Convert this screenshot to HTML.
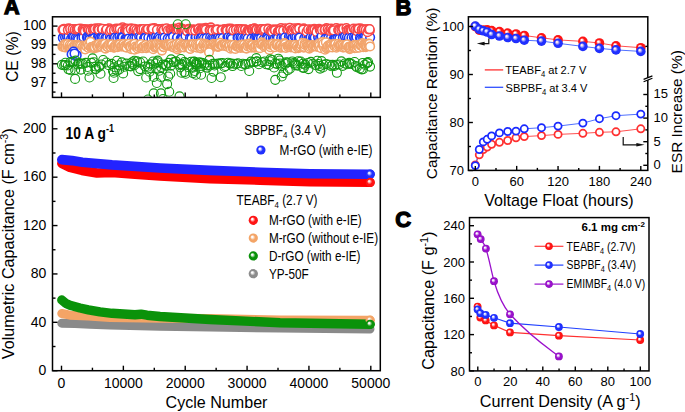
<!DOCTYPE html>
<html><head><meta charset="utf-8"><style>html,body{margin:0;padding:0;background:#fff;overflow:hidden}svg{display:block}</style></head>
<body>
<svg width="685" height="412" viewBox="0 0 685 412" font-family='"Liberation Sans", sans-serif'>
<defs>
<radialGradient id="gR" cx="0.5" cy="0.5" r="0.5" fx="0.36" fy="0.345"><stop offset="0" stop-color="#fff"/><stop offset="0.14" stop-color="#fff" stop-opacity="0.9"/><stop offset="0.55" stop-color="#ff1414"/><stop offset="0.88" stop-color="#ff1414"/><stop offset="1" stop-color="#f20a0a"/></radialGradient>
<radialGradient id="gB" cx="0.5" cy="0.5" r="0.5" fx="0.36" fy="0.345"><stop offset="0" stop-color="#fff"/><stop offset="0.14" stop-color="#fff" stop-opacity="0.9"/><stop offset="0.55" stop-color="#2030ff"/><stop offset="0.88" stop-color="#2030ff"/><stop offset="1" stop-color="#1c28f0"/></radialGradient>
<radialGradient id="gO" cx="0.5" cy="0.5" r="0.5" fx="0.36" fy="0.345"><stop offset="0" stop-color="#fff"/><stop offset="0.14" stop-color="#fff" stop-opacity="0.9"/><stop offset="0.55" stop-color="#f4a466"/><stop offset="0.88" stop-color="#f4a466"/><stop offset="1" stop-color="#eea060"/></radialGradient>
<radialGradient id="gG" cx="0.5" cy="0.5" r="0.5" fx="0.36" fy="0.345"><stop offset="0" stop-color="#fff"/><stop offset="0.14" stop-color="#fff" stop-opacity="0.9"/><stop offset="0.55" stop-color="#0a920a"/><stop offset="0.88" stop-color="#0a920a"/><stop offset="1" stop-color="#088a08"/></radialGradient>
<radialGradient id="gK" cx="0.5" cy="0.5" r="0.5" fx="0.36" fy="0.345"><stop offset="0" stop-color="#fff"/><stop offset="0.14" stop-color="#fff" stop-opacity="0.9"/><stop offset="0.55" stop-color="#8c8c8c"/><stop offset="0.88" stop-color="#8c8c8c"/><stop offset="1" stop-color="#787878"/></radialGradient>
<radialGradient id="gP" cx="0.5" cy="0.5" r="0.5" fx="0.36" fy="0.345"><stop offset="0" stop-color="#fff"/><stop offset="0.14" stop-color="#fff" stop-opacity="0.9"/><stop offset="0.55" stop-color="#9a10cc"/><stop offset="0.88" stop-color="#9a10cc"/><stop offset="1" stop-color="#8008b0"/></radialGradient>
<clipPath id="clipCE"><rect x="53" y="17.5" width="326.5" height="79.2"/></clipPath>
<clipPath id="clipA"><rect x="53" y="117.3" width="326.5" height="252.5"/></clipPath>
</defs>
<rect width="685" height="412" fill="#fff"/>
<text transform="translate(4.0,14.3) scale(0.98,1)" font-size="22" font-weight="bold" stroke="#000" stroke-width="1.3">A</text>
<text x="395.4" y="14.9" font-size="22" font-weight="bold" stroke="#000" stroke-width="1.3">B</text>
<text x="395.2" y="227" font-size="22" font-weight="bold" stroke="#000" stroke-width="1.3">C</text>
<g clip-path="url(#clipCE)" fill="#fff" stroke-width="1.55">
<circle cx="64.06" cy="38.6" r="4.3" stroke="#1f3af5"/>
<circle cx="62.97" cy="37.3" r="4.3" stroke="#1f3af5"/>
<circle cx="64.17" cy="32.18" r="4.3" stroke="#f84848"/>
<circle cx="62.86" cy="37.91" r="4.3" stroke="#1f3af5"/>
<circle cx="62.45" cy="29.55" r="4.3" stroke="#f84848"/>
<circle cx="66.12" cy="29.32" r="4.3" stroke="#f84848"/>
<circle cx="65.03" cy="37.25" r="4.3" stroke="#1f3af5"/>
<circle cx="66.42" cy="31.33" r="4.3" stroke="#f84848"/>
<circle cx="67.19" cy="37.29" r="4.3" stroke="#1f3af5"/>
<circle cx="65" cy="29.74" r="4.3" stroke="#f84848"/>
<circle cx="64.1" cy="28.89" r="4.3" stroke="#f84848"/>
<circle cx="67.01" cy="36.21" r="4.3" stroke="#1f3af5"/>
<circle cx="63.51" cy="29.63" r="4.3" stroke="#f84848"/>
<circle cx="68.88" cy="29.56" r="4.3" stroke="#f84848"/>
<circle cx="69.41" cy="30.79" r="4.3" stroke="#f84848"/>
<circle cx="68.54" cy="28.4" r="4.3" stroke="#f84848"/>
<circle cx="71.79" cy="30.2" r="4.3" stroke="#f84848"/>
<circle cx="70.1" cy="37.77" r="4.3" stroke="#1f3af5"/>
<circle cx="71.02" cy="38.25" r="4.3" stroke="#1f3af5"/>
<circle cx="68.6" cy="36.39" r="4.3" stroke="#1f3af5"/>
<circle cx="67.83" cy="30.05" r="4.3" stroke="#f84848"/>
<circle cx="70.82" cy="30.87" r="4.3" stroke="#f84848"/>
<circle cx="70.12" cy="28.77" r="4.3" stroke="#f84848"/>
<circle cx="71.08" cy="38.54" r="4.3" stroke="#1f3af5"/>
<circle cx="72.62" cy="36.86" r="4.3" stroke="#1f3af5"/>
<circle cx="73.39" cy="29.45" r="4.3" stroke="#f84848"/>
<circle cx="72.59" cy="28.96" r="4.3" stroke="#f84848"/>
<circle cx="74.9" cy="39.05" r="4.3" stroke="#1f3af5"/>
<circle cx="75.14" cy="29.86" r="4.3" stroke="#f84848"/>
<circle cx="73.75" cy="37.27" r="4.3" stroke="#1f3af5"/>
<circle cx="75.67" cy="29.42" r="4.3" stroke="#f84848"/>
<circle cx="76.51" cy="37.8" r="4.3" stroke="#1f3af5"/>
<circle cx="78.65" cy="29.86" r="4.3" stroke="#f84848"/>
<circle cx="75.49" cy="38.02" r="4.3" stroke="#1f3af5"/>
<circle cx="74.65" cy="29.49" r="4.3" stroke="#f84848"/>
<circle cx="76.85" cy="29.16" r="4.3" stroke="#f84848"/>
<circle cx="77.15" cy="38.54" r="4.3" stroke="#1f3af5"/>
<circle cx="76.66" cy="29.63" r="4.3" stroke="#f84848"/>
<circle cx="79.87" cy="38.71" r="4.3" stroke="#1f3af5"/>
<circle cx="81.37" cy="29.9" r="4.3" stroke="#f84848"/>
<circle cx="80.69" cy="28.52" r="4.3" stroke="#f84848"/>
<circle cx="79.38" cy="30.69" r="4.3" stroke="#f84848"/>
<circle cx="82.7" cy="38.23" r="4.3" stroke="#1f3af5"/>
<circle cx="77.32" cy="28.98" r="4.3" stroke="#f84848"/>
<circle cx="78.6" cy="28.74" r="4.3" stroke="#f84848"/>
<circle cx="80.33" cy="37.9" r="4.3" stroke="#1f3af5"/>
<circle cx="78.22" cy="39.52" r="4.3" stroke="#1f3af5"/>
<circle cx="82.64" cy="29.32" r="4.3" stroke="#f84848"/>
<circle cx="83.03" cy="29.02" r="4.3" stroke="#f84848"/>
<circle cx="81.51" cy="38.05" r="4.3" stroke="#1f3af5"/>
<circle cx="84.39" cy="37.06" r="4.3" stroke="#1f3af5"/>
<circle cx="86.5" cy="37.84" r="4.3" stroke="#1f3af5"/>
<circle cx="86.18" cy="30.25" r="4.3" stroke="#f84848"/>
<circle cx="84.34" cy="29.43" r="4.3" stroke="#f84848"/>
<circle cx="83.41" cy="37.37" r="4.3" stroke="#1f3af5"/>
<circle cx="83.63" cy="30.67" r="4.3" stroke="#f84848"/>
<circle cx="85.23" cy="29.2" r="4.3" stroke="#f84848"/>
<circle cx="87.52" cy="29.7" r="4.3" stroke="#f84848"/>
<circle cx="84.78" cy="31.25" r="4.3" stroke="#f84848"/>
<circle cx="87.66" cy="29.22" r="4.3" stroke="#f84848"/>
<circle cx="88.6" cy="30.43" r="4.3" stroke="#f84848"/>
<circle cx="90.54" cy="29.86" r="4.3" stroke="#f84848"/>
<circle cx="90.83" cy="37.2" r="4.3" stroke="#1f3af5"/>
<circle cx="88.89" cy="29.76" r="4.3" stroke="#f84848"/>
<circle cx="86.94" cy="37.14" r="4.3" stroke="#1f3af5"/>
<circle cx="87.69" cy="37.76" r="4.3" stroke="#1f3af5"/>
<circle cx="91.41" cy="28.92" r="4.3" stroke="#f84848"/>
<circle cx="89.32" cy="37.87" r="4.3" stroke="#1f3af5"/>
<circle cx="89.52" cy="39.44" r="4.3" stroke="#1f3af5"/>
<circle cx="90.62" cy="30.44" r="4.3" stroke="#f84848"/>
<circle cx="92.89" cy="29.81" r="4.3" stroke="#f84848"/>
<circle cx="92.72" cy="37.71" r="4.3" stroke="#1f3af5"/>
<circle cx="95.66" cy="29.86" r="4.3" stroke="#f84848"/>
<circle cx="95.61" cy="28.35" r="4.3" stroke="#f84848"/>
<circle cx="93.18" cy="29.95" r="4.3" stroke="#f84848"/>
<circle cx="93.67" cy="37.68" r="4.3" stroke="#1f3af5"/>
<circle cx="94.31" cy="30.76" r="4.3" stroke="#f84848"/>
<circle cx="94.76" cy="38.53" r="4.3" stroke="#1f3af5"/>
<circle cx="96.89" cy="30.49" r="4.3" stroke="#f84848"/>
<circle cx="96.75" cy="37.23" r="4.3" stroke="#1f3af5"/>
<circle cx="94.8" cy="29.08" r="4.3" stroke="#f84848"/>
<circle cx="97.58" cy="28.93" r="4.3" stroke="#f84848"/>
<circle cx="96.06" cy="37.46" r="4.3" stroke="#1f3af5"/>
<circle cx="94.39" cy="38.11" r="4.3" stroke="#1f3af5"/>
<circle cx="99.98" cy="28.53" r="4.3" stroke="#f84848"/>
<circle cx="98" cy="36.65" r="4.3" stroke="#1f3af5"/>
<circle cx="98.8" cy="37.15" r="4.3" stroke="#1f3af5"/>
<circle cx="101.11" cy="28.92" r="4.3" stroke="#f84848"/>
<circle cx="98.75" cy="28.27" r="4.3" stroke="#f84848"/>
<circle cx="99.89" cy="30.9" r="4.3" stroke="#f84848"/>
<circle cx="98.88" cy="29.85" r="4.3" stroke="#f84848"/>
<circle cx="99.95" cy="38.18" r="4.3" stroke="#1f3af5"/>
<circle cx="105" cy="37.82" r="4.3" stroke="#1f3af5"/>
<circle cx="104.04" cy="29.17" r="4.3" stroke="#f84848"/>
<circle cx="101.98" cy="37.09" r="4.3" stroke="#1f3af5"/>
<circle cx="101.59" cy="37.83" r="4.3" stroke="#1f3af5"/>
<circle cx="101.77" cy="29.23" r="4.3" stroke="#f84848"/>
<circle cx="103.83" cy="30.24" r="4.3" stroke="#f84848"/>
<circle cx="105.5" cy="29.25" r="4.3" stroke="#f84848"/>
<circle cx="102.3" cy="28.88" r="4.3" stroke="#f84848"/>
<circle cx="108.18" cy="28.81" r="4.3" stroke="#f84848"/>
<circle cx="103.08" cy="37.54" r="4.3" stroke="#1f3af5"/>
<circle cx="106.38" cy="37.38" r="4.3" stroke="#1f3af5"/>
<circle cx="108.07" cy="29.03" r="4.3" stroke="#f84848"/>
<circle cx="107.29" cy="30.29" r="4.3" stroke="#f84848"/>
<circle cx="105.76" cy="30.42" r="4.3" stroke="#f84848"/>
<circle cx="105.35" cy="38.15" r="4.3" stroke="#1f3af5"/>
<circle cx="109.26" cy="28.25" r="4.3" stroke="#f84848"/>
<circle cx="108.99" cy="36.53" r="4.3" stroke="#1f3af5"/>
<circle cx="107.11" cy="37.62" r="4.3" stroke="#1f3af5"/>
<circle cx="106.52" cy="29.22" r="4.3" stroke="#f84848"/>
<circle cx="111.87" cy="36.27" r="4.3" stroke="#1f3af5"/>
<circle cx="109.88" cy="36.99" r="4.3" stroke="#1f3af5"/>
<circle cx="112.83" cy="29.87" r="4.3" stroke="#f84848"/>
<circle cx="112.28" cy="37.56" r="4.3" stroke="#1f3af5"/>
<circle cx="110.68" cy="29.61" r="4.3" stroke="#f84848"/>
<circle cx="112.66" cy="30.04" r="4.3" stroke="#f84848"/>
<circle cx="109.75" cy="31.58" r="4.3" stroke="#f84848"/>
<circle cx="110.76" cy="38.93" r="4.3" stroke="#1f3af5"/>
<circle cx="115.66" cy="28.96" r="4.3" stroke="#f84848"/>
<circle cx="113.5" cy="37.95" r="4.3" stroke="#1f3af5"/>
<circle cx="111.05" cy="30.12" r="4.3" stroke="#f84848"/>
<circle cx="116.39" cy="37.23" r="4.3" stroke="#1f3af5"/>
<circle cx="114.23" cy="31.62" r="4.3" stroke="#f84848"/>
<circle cx="116.14" cy="28.5" r="4.3" stroke="#f84848"/>
<circle cx="113.95" cy="29.94" r="4.3" stroke="#f84848"/>
<circle cx="118.08" cy="37.8" r="4.3" stroke="#1f3af5"/>
<circle cx="114.92" cy="37.54" r="4.3" stroke="#1f3af5"/>
<circle cx="116.24" cy="28.99" r="4.3" stroke="#f84848"/>
<circle cx="119.37" cy="30.64" r="4.3" stroke="#f84848"/>
<circle cx="118.96" cy="37.74" r="4.3" stroke="#1f3af5"/>
<circle cx="118.68" cy="30.57" r="4.3" stroke="#f84848"/>
<circle cx="117.83" cy="28.7" r="4.3" stroke="#f84848"/>
<circle cx="117.26" cy="37.76" r="4.3" stroke="#1f3af5"/>
<circle cx="119.39" cy="36.49" r="4.3" stroke="#1f3af5"/>
<circle cx="119.93" cy="28.65" r="4.3" stroke="#f84848"/>
<circle cx="122.62" cy="27.36" r="4.3" stroke="#f84848"/>
<circle cx="122.91" cy="30.37" r="4.3" stroke="#f84848"/>
<circle cx="124.49" cy="28.93" r="4.3" stroke="#f84848"/>
<circle cx="120.72" cy="29.58" r="4.3" stroke="#f84848"/>
<circle cx="121.47" cy="37.7" r="4.3" stroke="#1f3af5"/>
<circle cx="119.7" cy="29.03" r="4.3" stroke="#f84848"/>
<circle cx="122.34" cy="31.15" r="4.3" stroke="#f84848"/>
<circle cx="124.32" cy="37.96" r="4.3" stroke="#1f3af5"/>
<circle cx="124.93" cy="30.84" r="4.3" stroke="#f84848"/>
<circle cx="125.58" cy="28.93" r="4.3" stroke="#f84848"/>
<circle cx="121.51" cy="37.2" r="4.3" stroke="#1f3af5"/>
<circle cx="122.61" cy="37.42" r="4.3" stroke="#1f3af5"/>
<circle cx="126.08" cy="29.64" r="4.3" stroke="#f84848"/>
<circle cx="126.86" cy="28.54" r="4.3" stroke="#f84848"/>
<circle cx="127.12" cy="37.45" r="4.3" stroke="#1f3af5"/>
<circle cx="127.39" cy="29.02" r="4.3" stroke="#f84848"/>
<circle cx="129.62" cy="30.64" r="4.3" stroke="#f84848"/>
<circle cx="125.49" cy="38.25" r="4.3" stroke="#1f3af5"/>
<circle cx="126.49" cy="38.43" r="4.3" stroke="#1f3af5"/>
<circle cx="129.87" cy="29.54" r="4.3" stroke="#f84848"/>
<circle cx="127.82" cy="38.45" r="4.3" stroke="#1f3af5"/>
<circle cx="132.02" cy="37.7" r="4.3" stroke="#1f3af5"/>
<circle cx="127.88" cy="31.15" r="4.3" stroke="#f84848"/>
<circle cx="130.69" cy="38.6" r="4.3" stroke="#1f3af5"/>
<circle cx="132.28" cy="29.87" r="4.3" stroke="#f84848"/>
<circle cx="128.68" cy="38.62" r="4.3" stroke="#1f3af5"/>
<circle cx="131.16" cy="28.2" r="4.3" stroke="#f84848"/>
<circle cx="133.79" cy="37.68" r="4.3" stroke="#1f3af5"/>
<circle cx="132.41" cy="29.55" r="4.3" stroke="#f84848"/>
<circle cx="133.75" cy="29.82" r="4.3" stroke="#f84848"/>
<circle cx="130.7" cy="29.12" r="4.3" stroke="#f84848"/>
<circle cx="133.43" cy="29.82" r="4.3" stroke="#f84848"/>
<circle cx="135.19" cy="36.84" r="4.3" stroke="#1f3af5"/>
<circle cx="137.17" cy="31.06" r="4.3" stroke="#f84848"/>
<circle cx="131.87" cy="38.77" r="4.3" stroke="#1f3af5"/>
<circle cx="136.71" cy="29.87" r="4.3" stroke="#f84848"/>
<circle cx="134.27" cy="38.38" r="4.3" stroke="#1f3af5"/>
<circle cx="138.43" cy="37.54" r="4.3" stroke="#1f3af5"/>
<circle cx="134.6" cy="28.89" r="4.3" stroke="#f84848"/>
<circle cx="136.88" cy="37.43" r="4.3" stroke="#1f3af5"/>
<circle cx="136.45" cy="37.95" r="4.3" stroke="#1f3af5"/>
<circle cx="139.17" cy="29.78" r="4.3" stroke="#f84848"/>
<circle cx="136.35" cy="29.84" r="4.3" stroke="#f84848"/>
<circle cx="141.6" cy="37.79" r="4.3" stroke="#1f3af5"/>
<circle cx="139.27" cy="29.21" r="4.3" stroke="#f84848"/>
<circle cx="138.02" cy="31.58" r="4.3" stroke="#f84848"/>
<circle cx="139.17" cy="36.58" r="4.3" stroke="#1f3af5"/>
<circle cx="143.06" cy="38.42" r="4.3" stroke="#1f3af5"/>
<circle cx="140.82" cy="37.18" r="4.3" stroke="#1f3af5"/>
<circle cx="142.42" cy="29.85" r="4.3" stroke="#f84848"/>
<circle cx="140.3" cy="29.84" r="4.3" stroke="#f84848"/>
<circle cx="144.18" cy="29.81" r="4.3" stroke="#f84848"/>
<circle cx="141.15" cy="29.35" r="4.3" stroke="#f84848"/>
<circle cx="141.49" cy="29.23" r="4.3" stroke="#f84848"/>
<circle cx="144.36" cy="30.45" r="4.3" stroke="#f84848"/>
<circle cx="145.48" cy="29.74" r="4.3" stroke="#f84848"/>
<circle cx="143.45" cy="28.96" r="4.3" stroke="#f84848"/>
<circle cx="147.84" cy="29.69" r="4.3" stroke="#f84848"/>
<circle cx="145.86" cy="30.13" r="4.3" stroke="#f84848"/>
<circle cx="144.13" cy="38.49" r="4.3" stroke="#1f3af5"/>
<circle cx="148.91" cy="29.41" r="4.3" stroke="#f84848"/>
<circle cx="144.46" cy="37.74" r="4.3" stroke="#1f3af5"/>
<circle cx="147.78" cy="38.08" r="4.3" stroke="#1f3af5"/>
<circle cx="147.27" cy="37.22" r="4.3" stroke="#1f3af5"/>
<circle cx="149.29" cy="38.22" r="4.3" stroke="#1f3af5"/>
<circle cx="145.45" cy="37.67" r="4.3" stroke="#1f3af5"/>
<circle cx="148.32" cy="37.63" r="4.3" stroke="#1f3af5"/>
<circle cx="147.11" cy="29.25" r="4.3" stroke="#f84848"/>
<circle cx="150.12" cy="30.11" r="4.3" stroke="#f84848"/>
<circle cx="149.9" cy="29.9" r="4.3" stroke="#f84848"/>
<circle cx="147.91" cy="29.05" r="4.3" stroke="#f84848"/>
<circle cx="152.38" cy="36.75" r="4.3" stroke="#1f3af5"/>
<circle cx="151.98" cy="37.78" r="4.3" stroke="#1f3af5"/>
<circle cx="151.45" cy="39.03" r="4.3" stroke="#1f3af5"/>
<circle cx="154.98" cy="36.78" r="4.3" stroke="#1f3af5"/>
<circle cx="155.98" cy="30.04" r="4.3" stroke="#f84848"/>
<circle cx="154.53" cy="28.03" r="4.3" stroke="#f84848"/>
<circle cx="153.96" cy="37.2" r="4.3" stroke="#1f3af5"/>
<circle cx="151.37" cy="28.67" r="4.3" stroke="#f84848"/>
<circle cx="155.46" cy="29.98" r="4.3" stroke="#f84848"/>
<circle cx="153.83" cy="29.64" r="4.3" stroke="#f84848"/>
<circle cx="152.3" cy="29.96" r="4.3" stroke="#f84848"/>
<circle cx="153.69" cy="29.35" r="4.3" stroke="#f84848"/>
<circle cx="152.7" cy="28.69" r="4.3" stroke="#f84848"/>
<circle cx="155.93" cy="36.96" r="4.3" stroke="#1f3af5"/>
<circle cx="158.65" cy="29.56" r="4.3" stroke="#f84848"/>
<circle cx="158.37" cy="29.52" r="4.3" stroke="#f84848"/>
<circle cx="159.11" cy="29.02" r="4.3" stroke="#f84848"/>
<circle cx="161.44" cy="29.98" r="4.3" stroke="#f84848"/>
<circle cx="159.76" cy="29.66" r="4.3" stroke="#f84848"/>
<circle cx="157.58" cy="38.71" r="4.3" stroke="#1f3af5"/>
<circle cx="156.91" cy="29.76" r="4.3" stroke="#f84848"/>
<circle cx="158.61" cy="37.96" r="4.3" stroke="#1f3af5"/>
<circle cx="162.82" cy="28.82" r="4.3" stroke="#f84848"/>
<circle cx="158.65" cy="36.74" r="4.3" stroke="#1f3af5"/>
<circle cx="161.05" cy="38.68" r="4.3" stroke="#1f3af5"/>
<circle cx="159.71" cy="38.26" r="4.3" stroke="#1f3af5"/>
<circle cx="161.31" cy="29.4" r="4.3" stroke="#f84848"/>
<circle cx="163.37" cy="37.33" r="4.3" stroke="#1f3af5"/>
<circle cx="165.37" cy="38" r="4.3" stroke="#1f3af5"/>
<circle cx="166.01" cy="30.4" r="4.3" stroke="#f84848"/>
<circle cx="162.59" cy="37.55" r="4.3" stroke="#1f3af5"/>
<circle cx="162.99" cy="30.11" r="4.3" stroke="#f84848"/>
<circle cx="164.92" cy="29.77" r="4.3" stroke="#f84848"/>
<circle cx="165.47" cy="29.5" r="4.3" stroke="#f84848"/>
<circle cx="163.73" cy="30.03" r="4.3" stroke="#f84848"/>
<circle cx="165.96" cy="38.25" r="4.3" stroke="#1f3af5"/>
<circle cx="164.52" cy="37.56" r="4.3" stroke="#1f3af5"/>
<circle cx="169.36" cy="30.16" r="4.3" stroke="#f84848"/>
<circle cx="169.07" cy="30.24" r="4.3" stroke="#f84848"/>
<circle cx="168.01" cy="30.12" r="4.3" stroke="#f84848"/>
<circle cx="167.78" cy="38.65" r="4.3" stroke="#1f3af5"/>
<circle cx="166.56" cy="28.4" r="4.3" stroke="#f84848"/>
<circle cx="167.84" cy="30.31" r="4.3" stroke="#f84848"/>
<circle cx="170.24" cy="29.31" r="4.3" stroke="#f84848"/>
<circle cx="169.63" cy="38.63" r="4.3" stroke="#1f3af5"/>
<circle cx="172.33" cy="30.47" r="4.3" stroke="#f84848"/>
<circle cx="171.08" cy="29.67" r="4.3" stroke="#f84848"/>
<circle cx="171.42" cy="38.26" r="4.3" stroke="#1f3af5"/>
<circle cx="167.72" cy="38.63" r="4.3" stroke="#1f3af5"/>
<circle cx="173.56" cy="37.71" r="4.3" stroke="#1f3af5"/>
<circle cx="172.23" cy="30.29" r="4.3" stroke="#f84848"/>
<circle cx="170.06" cy="38.75" r="4.3" stroke="#1f3af5"/>
<circle cx="174.01" cy="38.02" r="4.3" stroke="#1f3af5"/>
<circle cx="174.21" cy="28.54" r="4.3" stroke="#f84848"/>
<circle cx="173.63" cy="30.09" r="4.3" stroke="#f84848"/>
<circle cx="175.49" cy="37.53" r="4.3" stroke="#1f3af5"/>
<circle cx="174.99" cy="30.38" r="4.3" stroke="#f84848"/>
<circle cx="175.62" cy="30.95" r="4.3" stroke="#f84848"/>
<circle cx="173.06" cy="36.73" r="4.3" stroke="#1f3af5"/>
<circle cx="176.8" cy="38.44" r="4.3" stroke="#1f3af5"/>
<circle cx="178.37" cy="37.15" r="4.3" stroke="#1f3af5"/>
<circle cx="176.77" cy="30.81" r="4.3" stroke="#f84848"/>
<circle cx="178.05" cy="30.75" r="4.3" stroke="#f84848"/>
<circle cx="176.74" cy="30.11" r="4.3" stroke="#f84848"/>
<circle cx="177.55" cy="28.5" r="4.3" stroke="#f84848"/>
<circle cx="179.12" cy="38.81" r="4.3" stroke="#1f3af5"/>
<circle cx="179.53" cy="27.62" r="4.3" stroke="#f84848"/>
<circle cx="177.1" cy="37.55" r="4.3" stroke="#1f3af5"/>
<circle cx="178.6" cy="29.77" r="4.3" stroke="#f84848"/>
<circle cx="181.11" cy="30.24" r="4.3" stroke="#f84848"/>
<circle cx="180.77" cy="38.27" r="4.3" stroke="#1f3af5"/>
<circle cx="181.61" cy="37.95" r="4.3" stroke="#1f3af5"/>
<circle cx="183.57" cy="38.54" r="4.3" stroke="#1f3af5"/>
<circle cx="181.75" cy="28.56" r="4.3" stroke="#f84848"/>
<circle cx="181.61" cy="28.73" r="4.3" stroke="#f84848"/>
<circle cx="185.03" cy="38.04" r="4.3" stroke="#1f3af5"/>
<circle cx="185.52" cy="31.47" r="4.3" stroke="#f84848"/>
<circle cx="182.79" cy="38.45" r="4.3" stroke="#1f3af5"/>
<circle cx="182.94" cy="29.33" r="4.3" stroke="#f84848"/>
<circle cx="187.39" cy="37.33" r="4.3" stroke="#1f3af5"/>
<circle cx="183.52" cy="31.05" r="4.3" stroke="#f84848"/>
<circle cx="184.4" cy="29.57" r="4.3" stroke="#f84848"/>
<circle cx="187.18" cy="29.81" r="4.3" stroke="#f84848"/>
<circle cx="188.48" cy="37.48" r="4.3" stroke="#1f3af5"/>
<circle cx="185.21" cy="30.14" r="4.3" stroke="#f84848"/>
<circle cx="188.86" cy="28.77" r="4.3" stroke="#f84848"/>
<circle cx="188.11" cy="29.68" r="4.3" stroke="#f84848"/>
<circle cx="189.64" cy="30.28" r="4.3" stroke="#f84848"/>
<circle cx="188.95" cy="37.11" r="4.3" stroke="#1f3af5"/>
<circle cx="185.48" cy="36.08" r="4.3" stroke="#1f3af5"/>
<circle cx="187.04" cy="31.33" r="4.3" stroke="#f84848"/>
<circle cx="189.05" cy="29.27" r="4.3" stroke="#f84848"/>
<circle cx="189.95" cy="37.94" r="4.3" stroke="#1f3af5"/>
<circle cx="193.38" cy="29.2" r="4.3" stroke="#f84848"/>
<circle cx="190.79" cy="30.26" r="4.3" stroke="#f84848"/>
<circle cx="195.67" cy="30.43" r="4.3" stroke="#f84848"/>
<circle cx="191.8" cy="37.46" r="4.3" stroke="#1f3af5"/>
<circle cx="191.95" cy="30" r="4.3" stroke="#f84848"/>
<circle cx="193.44" cy="37.01" r="4.3" stroke="#1f3af5"/>
<circle cx="193.85" cy="39.22" r="4.3" stroke="#1f3af5"/>
<circle cx="191.45" cy="38.63" r="4.3" stroke="#1f3af5"/>
<circle cx="193.37" cy="29.85" r="4.3" stroke="#f84848"/>
<circle cx="192.75" cy="30.8" r="4.3" stroke="#f84848"/>
<circle cx="196.49" cy="30.86" r="4.3" stroke="#f84848"/>
<circle cx="196.8" cy="30.26" r="4.3" stroke="#f84848"/>
<circle cx="197.7" cy="30.23" r="4.3" stroke="#f84848"/>
<circle cx="198.74" cy="38.1" r="4.3" stroke="#1f3af5"/>
<circle cx="197.32" cy="37.97" r="4.3" stroke="#1f3af5"/>
<circle cx="195.4" cy="37.48" r="4.3" stroke="#1f3af5"/>
<circle cx="195.97" cy="36.94" r="4.3" stroke="#1f3af5"/>
<circle cx="198.72" cy="37.31" r="4.3" stroke="#1f3af5"/>
<circle cx="195.07" cy="30.56" r="4.3" stroke="#f84848"/>
<circle cx="198.01" cy="29.62" r="4.3" stroke="#f84848"/>
<circle cx="199.14" cy="28.42" r="4.3" stroke="#f84848"/>
<circle cx="198.42" cy="29" r="4.3" stroke="#f84848"/>
<circle cx="203.2" cy="37.93" r="4.3" stroke="#1f3af5"/>
<circle cx="200.88" cy="29.85" r="4.3" stroke="#f84848"/>
<circle cx="200.15" cy="30.42" r="4.3" stroke="#f84848"/>
<circle cx="202.74" cy="28.37" r="4.3" stroke="#f84848"/>
<circle cx="201.37" cy="37.46" r="4.3" stroke="#1f3af5"/>
<circle cx="200.66" cy="38.35" r="4.3" stroke="#1f3af5"/>
<circle cx="201.55" cy="30.18" r="4.3" stroke="#f84848"/>
<circle cx="205.81" cy="27.87" r="4.3" stroke="#f84848"/>
<circle cx="202.2" cy="37.15" r="4.3" stroke="#1f3af5"/>
<circle cx="202.84" cy="29.57" r="4.3" stroke="#f84848"/>
<circle cx="205.15" cy="37.36" r="4.3" stroke="#1f3af5"/>
<circle cx="204.23" cy="29.36" r="4.3" stroke="#f84848"/>
<circle cx="204.46" cy="29.12" r="4.3" stroke="#f84848"/>
<circle cx="203.89" cy="38.34" r="4.3" stroke="#1f3af5"/>
<circle cx="208.33" cy="30.24" r="4.3" stroke="#f84848"/>
<circle cx="206.84" cy="30.71" r="4.3" stroke="#f84848"/>
<circle cx="207.01" cy="37.73" r="4.3" stroke="#1f3af5"/>
<circle cx="208.58" cy="29.36" r="4.3" stroke="#f84848"/>
<circle cx="205.75" cy="29.6" r="4.3" stroke="#f84848"/>
<circle cx="208.73" cy="39.78" r="4.3" stroke="#1f3af5"/>
<circle cx="206.61" cy="38.03" r="4.3" stroke="#1f3af5"/>
<circle cx="210.87" cy="27.42" r="4.3" stroke="#f84848"/>
<circle cx="211.1" cy="29.79" r="4.3" stroke="#f84848"/>
<circle cx="209.64" cy="29.89" r="4.3" stroke="#f84848"/>
<circle cx="210.19" cy="30.58" r="4.3" stroke="#f84848"/>
<circle cx="213.01" cy="37.71" r="4.3" stroke="#1f3af5"/>
<circle cx="212.3" cy="30.39" r="4.3" stroke="#f84848"/>
<circle cx="211.16" cy="38.77" r="4.3" stroke="#1f3af5"/>
<circle cx="210.11" cy="37.3" r="4.3" stroke="#1f3af5"/>
<circle cx="214.96" cy="30.92" r="4.3" stroke="#f84848"/>
<circle cx="215.38" cy="38.69" r="4.3" stroke="#1f3af5"/>
<circle cx="212.08" cy="37.76" r="4.3" stroke="#1f3af5"/>
<circle cx="216.42" cy="30.61" r="4.3" stroke="#f84848"/>
<circle cx="215.34" cy="30.17" r="4.3" stroke="#f84848"/>
<circle cx="214.04" cy="31.43" r="4.3" stroke="#f84848"/>
<circle cx="213.29" cy="38.31" r="4.3" stroke="#1f3af5"/>
<circle cx="212.39" cy="30.51" r="4.3" stroke="#f84848"/>
<circle cx="215.27" cy="38.43" r="4.3" stroke="#1f3af5"/>
<circle cx="217.21" cy="38.03" r="4.3" stroke="#1f3af5"/>
<circle cx="215.57" cy="30.18" r="4.3" stroke="#f84848"/>
<circle cx="217.62" cy="29.86" r="4.3" stroke="#f84848"/>
<circle cx="220.07" cy="29.76" r="4.3" stroke="#f84848"/>
<circle cx="218.97" cy="37.42" r="4.3" stroke="#1f3af5"/>
<circle cx="218.25" cy="37.38" r="4.3" stroke="#1f3af5"/>
<circle cx="220.52" cy="38.21" r="4.3" stroke="#1f3af5"/>
<circle cx="221.94" cy="38.78" r="4.3" stroke="#1f3af5"/>
<circle cx="219.91" cy="31.66" r="4.3" stroke="#f84848"/>
<circle cx="218.97" cy="30.72" r="4.3" stroke="#f84848"/>
<circle cx="217.13" cy="29.41" r="4.3" stroke="#f84848"/>
<circle cx="222.05" cy="31.11" r="4.3" stroke="#f84848"/>
<circle cx="219.88" cy="38.16" r="4.3" stroke="#1f3af5"/>
<circle cx="224.34" cy="29.03" r="4.3" stroke="#f84848"/>
<circle cx="223.52" cy="38.54" r="4.3" stroke="#1f3af5"/>
<circle cx="223.55" cy="29.87" r="4.3" stroke="#f84848"/>
<circle cx="224.43" cy="31.22" r="4.3" stroke="#f84848"/>
<circle cx="221.46" cy="29.86" r="4.3" stroke="#f84848"/>
<circle cx="224.56" cy="38.86" r="4.3" stroke="#1f3af5"/>
<circle cx="226.39" cy="37.92" r="4.3" stroke="#1f3af5"/>
<circle cx="222.12" cy="30.08" r="4.3" stroke="#f84848"/>
<circle cx="228.57" cy="28.54" r="4.3" stroke="#f84848"/>
<circle cx="222.69" cy="38.09" r="4.3" stroke="#1f3af5"/>
<circle cx="227.57" cy="36.76" r="4.3" stroke="#1f3af5"/>
<circle cx="225.52" cy="29.73" r="4.3" stroke="#f84848"/>
<circle cx="227.66" cy="36.97" r="4.3" stroke="#1f3af5"/>
<circle cx="229.87" cy="38.91" r="4.3" stroke="#1f3af5"/>
<circle cx="229.27" cy="29.08" r="4.3" stroke="#f84848"/>
<circle cx="226.34" cy="29.72" r="4.3" stroke="#f84848"/>
<circle cx="227.16" cy="30.84" r="4.3" stroke="#f84848"/>
<circle cx="227.04" cy="30.61" r="4.3" stroke="#f84848"/>
<circle cx="228.54" cy="36.79" r="4.3" stroke="#1f3af5"/>
<circle cx="230.23" cy="30.2" r="4.3" stroke="#f84848"/>
<circle cx="231.11" cy="28.53" r="4.3" stroke="#f84848"/>
<circle cx="233.99" cy="30.34" r="4.3" stroke="#f84848"/>
<circle cx="232.32" cy="30.83" r="4.3" stroke="#f84848"/>
<circle cx="230.94" cy="29.31" r="4.3" stroke="#f84848"/>
<circle cx="233.85" cy="29.47" r="4.3" stroke="#f84848"/>
<circle cx="230.74" cy="37.21" r="4.3" stroke="#1f3af5"/>
<circle cx="234.42" cy="30.83" r="4.3" stroke="#f84848"/>
<circle cx="234.18" cy="39" r="4.3" stroke="#1f3af5"/>
<circle cx="235.22" cy="38.5" r="4.3" stroke="#1f3af5"/>
<circle cx="233.34" cy="38.21" r="4.3" stroke="#1f3af5"/>
<circle cx="235.98" cy="37.73" r="4.3" stroke="#1f3af5"/>
<circle cx="236.12" cy="30.89" r="4.3" stroke="#f84848"/>
<circle cx="237.27" cy="29.08" r="4.3" stroke="#f84848"/>
<circle cx="231.84" cy="38.66" r="4.3" stroke="#1f3af5"/>
<circle cx="233.22" cy="30.34" r="4.3" stroke="#f84848"/>
<circle cx="239.3" cy="37.92" r="4.3" stroke="#1f3af5"/>
<circle cx="237.56" cy="37.66" r="4.3" stroke="#1f3af5"/>
<circle cx="239.1" cy="29.27" r="4.3" stroke="#f84848"/>
<circle cx="238.46" cy="29.13" r="4.3" stroke="#f84848"/>
<circle cx="235.9" cy="29.68" r="4.3" stroke="#f84848"/>
<circle cx="241.06" cy="30.13" r="4.3" stroke="#f84848"/>
<circle cx="242.2" cy="38.93" r="4.3" stroke="#1f3af5"/>
<circle cx="238.52" cy="30.08" r="4.3" stroke="#f84848"/>
<circle cx="242.19" cy="29.97" r="4.3" stroke="#f84848"/>
<circle cx="238.14" cy="37.86" r="4.3" stroke="#1f3af5"/>
<circle cx="243.8" cy="36.61" r="4.3" stroke="#1f3af5"/>
<circle cx="240.08" cy="30.51" r="4.3" stroke="#f84848"/>
<circle cx="240.41" cy="37.43" r="4.3" stroke="#1f3af5"/>
<circle cx="244" cy="30.72" r="4.3" stroke="#f84848"/>
<circle cx="241.12" cy="29.07" r="4.3" stroke="#f84848"/>
<circle cx="241.96" cy="37.78" r="4.3" stroke="#1f3af5"/>
<circle cx="246.79" cy="31.91" r="4.3" stroke="#f84848"/>
<circle cx="245.86" cy="30.99" r="4.3" stroke="#f84848"/>
<circle cx="242.63" cy="29.58" r="4.3" stroke="#f84848"/>
<circle cx="246.5" cy="37.93" r="4.3" stroke="#1f3af5"/>
<circle cx="244.34" cy="37.98" r="4.3" stroke="#1f3af5"/>
<circle cx="244.94" cy="29.33" r="4.3" stroke="#f84848"/>
<circle cx="246.07" cy="37.17" r="4.3" stroke="#1f3af5"/>
<circle cx="245.13" cy="29.5" r="4.3" stroke="#f84848"/>
<circle cx="249.14" cy="37.76" r="4.3" stroke="#1f3af5"/>
<circle cx="247.14" cy="31.7" r="4.3" stroke="#f84848"/>
<circle cx="247.91" cy="29.96" r="4.3" stroke="#f84848"/>
<circle cx="250.26" cy="36.69" r="4.3" stroke="#1f3af5"/>
<circle cx="248.75" cy="30.1" r="4.3" stroke="#f84848"/>
<circle cx="249.92" cy="38.34" r="4.3" stroke="#1f3af5"/>
<circle cx="249.92" cy="29.79" r="4.3" stroke="#f84848"/>
<circle cx="247.66" cy="38.39" r="4.3" stroke="#1f3af5"/>
<circle cx="253.4" cy="37.38" r="4.3" stroke="#1f3af5"/>
<circle cx="249.63" cy="31.28" r="4.3" stroke="#f84848"/>
<circle cx="253.27" cy="38.24" r="4.3" stroke="#1f3af5"/>
<circle cx="251.46" cy="29.02" r="4.3" stroke="#f84848"/>
<circle cx="251.98" cy="30.01" r="4.3" stroke="#f84848"/>
<circle cx="252.38" cy="30.31" r="4.3" stroke="#f84848"/>
<circle cx="251.34" cy="38.57" r="4.3" stroke="#1f3af5"/>
<circle cx="252.85" cy="29.15" r="4.3" stroke="#f84848"/>
<circle cx="254.41" cy="28.42" r="4.3" stroke="#f84848"/>
<circle cx="254.39" cy="28.61" r="4.3" stroke="#f84848"/>
<circle cx="255.12" cy="30.5" r="4.3" stroke="#f84848"/>
<circle cx="255.86" cy="29.22" r="4.3" stroke="#f84848"/>
<circle cx="258.26" cy="30.09" r="4.3" stroke="#f84848"/>
<circle cx="254.63" cy="37.93" r="4.3" stroke="#1f3af5"/>
<circle cx="256.45" cy="35.99" r="4.3" stroke="#1f3af5"/>
<circle cx="258.23" cy="30.46" r="4.3" stroke="#f84848"/>
<circle cx="256.34" cy="37.27" r="4.3" stroke="#1f3af5"/>
<circle cx="259.52" cy="38" r="4.3" stroke="#1f3af5"/>
<circle cx="256.53" cy="29.77" r="4.3" stroke="#f84848"/>
<circle cx="257.55" cy="37.95" r="4.3" stroke="#1f3af5"/>
<circle cx="259.01" cy="29.6" r="4.3" stroke="#f84848"/>
<circle cx="260.37" cy="30.35" r="4.3" stroke="#f84848"/>
<circle cx="258.64" cy="38.89" r="4.3" stroke="#1f3af5"/>
<circle cx="260.85" cy="29.1" r="4.3" stroke="#f84848"/>
<circle cx="262.19" cy="36.81" r="4.3" stroke="#1f3af5"/>
<circle cx="261.07" cy="29.57" r="4.3" stroke="#f84848"/>
<circle cx="262.89" cy="38.8" r="4.3" stroke="#1f3af5"/>
<circle cx="262.1" cy="28.98" r="4.3" stroke="#f84848"/>
<circle cx="261.01" cy="37.98" r="4.3" stroke="#1f3af5"/>
<circle cx="265.54" cy="37.82" r="4.3" stroke="#1f3af5"/>
<circle cx="263.66" cy="39.06" r="4.3" stroke="#1f3af5"/>
<circle cx="266.56" cy="37.65" r="4.3" stroke="#1f3af5"/>
<circle cx="264.63" cy="29.58" r="4.3" stroke="#f84848"/>
<circle cx="263.37" cy="30.92" r="4.3" stroke="#f84848"/>
<circle cx="266.12" cy="29.7" r="4.3" stroke="#f84848"/>
<circle cx="268.64" cy="29.56" r="4.3" stroke="#f84848"/>
<circle cx="267.71" cy="28.46" r="4.3" stroke="#f84848"/>
<circle cx="263.5" cy="29.88" r="4.3" stroke="#f84848"/>
<circle cx="266.92" cy="30.53" r="4.3" stroke="#f84848"/>
<circle cx="264.64" cy="29.23" r="4.3" stroke="#f84848"/>
<circle cx="269" cy="32.18" r="4.3" stroke="#f84848"/>
<circle cx="267.3" cy="36.67" r="4.3" stroke="#1f3af5"/>
<circle cx="269.33" cy="39.69" r="4.3" stroke="#1f3af5"/>
<circle cx="267.82" cy="38.42" r="4.3" stroke="#1f3af5"/>
<circle cx="271.26" cy="38.68" r="4.3" stroke="#1f3af5"/>
<circle cx="270.47" cy="38.3" r="4.3" stroke="#1f3af5"/>
<circle cx="271.36" cy="30.54" r="4.3" stroke="#f84848"/>
<circle cx="268.27" cy="28.97" r="4.3" stroke="#f84848"/>
<circle cx="270.28" cy="30.76" r="4.3" stroke="#f84848"/>
<circle cx="271.3" cy="29.8" r="4.3" stroke="#f84848"/>
<circle cx="275" cy="36.94" r="4.3" stroke="#1f3af5"/>
<circle cx="275.15" cy="30.99" r="4.3" stroke="#f84848"/>
<circle cx="273.24" cy="29.69" r="4.3" stroke="#f84848"/>
<circle cx="272.81" cy="38.18" r="4.3" stroke="#1f3af5"/>
<circle cx="275.76" cy="30.5" r="4.3" stroke="#f84848"/>
<circle cx="273.27" cy="37.11" r="4.3" stroke="#1f3af5"/>
<circle cx="272.19" cy="31.75" r="4.3" stroke="#f84848"/>
<circle cx="274.23" cy="29.57" r="4.3" stroke="#f84848"/>
<circle cx="277.23" cy="29.44" r="4.3" stroke="#f84848"/>
<circle cx="274.44" cy="38.74" r="4.3" stroke="#1f3af5"/>
<circle cx="274.96" cy="30.34" r="4.3" stroke="#f84848"/>
<circle cx="278.83" cy="38.42" r="4.3" stroke="#1f3af5"/>
<circle cx="281.62" cy="30.47" r="4.3" stroke="#f84848"/>
<circle cx="276.57" cy="37.65" r="4.3" stroke="#1f3af5"/>
<circle cx="280.96" cy="28.08" r="4.3" stroke="#f84848"/>
<circle cx="277.78" cy="31.63" r="4.3" stroke="#f84848"/>
<circle cx="282.92" cy="30.29" r="4.3" stroke="#f84848"/>
<circle cx="279.29" cy="38.09" r="4.3" stroke="#1f3af5"/>
<circle cx="277.84" cy="38" r="4.3" stroke="#1f3af5"/>
<circle cx="278.61" cy="31.44" r="4.3" stroke="#f84848"/>
<circle cx="282.58" cy="36.9" r="4.3" stroke="#1f3af5"/>
<circle cx="284.53" cy="29.59" r="4.3" stroke="#f84848"/>
<circle cx="281.89" cy="29.73" r="4.3" stroke="#f84848"/>
<circle cx="279.68" cy="30.41" r="4.3" stroke="#f84848"/>
<circle cx="280.34" cy="30.52" r="4.3" stroke="#f84848"/>
<circle cx="281.9" cy="37.27" r="4.3" stroke="#1f3af5"/>
<circle cx="285.37" cy="36.88" r="4.3" stroke="#1f3af5"/>
<circle cx="281.2" cy="38.07" r="4.3" stroke="#1f3af5"/>
<circle cx="286.36" cy="29.23" r="4.3" stroke="#f84848"/>
<circle cx="285.96" cy="30.23" r="4.3" stroke="#f84848"/>
<circle cx="285.27" cy="28.38" r="4.3" stroke="#f84848"/>
<circle cx="283.6" cy="37.84" r="4.3" stroke="#1f3af5"/>
<circle cx="288.08" cy="37.46" r="4.3" stroke="#1f3af5"/>
<circle cx="287.8" cy="29.36" r="4.3" stroke="#f84848"/>
<circle cx="283.11" cy="30.51" r="4.3" stroke="#f84848"/>
<circle cx="286.96" cy="36.91" r="4.3" stroke="#1f3af5"/>
<circle cx="287.02" cy="29.6" r="4.3" stroke="#f84848"/>
<circle cx="285.06" cy="37.3" r="4.3" stroke="#1f3af5"/>
<circle cx="290.87" cy="36.66" r="4.3" stroke="#1f3af5"/>
<circle cx="290.15" cy="31" r="4.3" stroke="#f84848"/>
<circle cx="288.07" cy="29.59" r="4.3" stroke="#f84848"/>
<circle cx="289.78" cy="27.82" r="4.3" stroke="#f84848"/>
<circle cx="288.87" cy="36.5" r="4.3" stroke="#1f3af5"/>
<circle cx="292.57" cy="31.68" r="4.3" stroke="#f84848"/>
<circle cx="290.33" cy="36.86" r="4.3" stroke="#1f3af5"/>
<circle cx="294.5" cy="39.2" r="4.3" stroke="#1f3af5"/>
<circle cx="290.7" cy="30.13" r="4.3" stroke="#f84848"/>
<circle cx="291.9" cy="37.93" r="4.3" stroke="#1f3af5"/>
<circle cx="291.63" cy="30.9" r="4.3" stroke="#f84848"/>
<circle cx="292.71" cy="38.09" r="4.3" stroke="#1f3af5"/>
<circle cx="295.11" cy="28.81" r="4.3" stroke="#f84848"/>
<circle cx="294.81" cy="36.75" r="4.3" stroke="#1f3af5"/>
<circle cx="292.9" cy="29.92" r="4.3" stroke="#f84848"/>
<circle cx="297.76" cy="30.21" r="4.3" stroke="#f84848"/>
<circle cx="295.01" cy="29.1" r="4.3" stroke="#f84848"/>
<circle cx="296.98" cy="38.44" r="4.3" stroke="#1f3af5"/>
<circle cx="294.17" cy="28.28" r="4.3" stroke="#f84848"/>
<circle cx="298.04" cy="28.1" r="4.3" stroke="#f84848"/>
<circle cx="296.29" cy="37.32" r="4.3" stroke="#1f3af5"/>
<circle cx="295.55" cy="29.45" r="4.3" stroke="#f84848"/>
<circle cx="298.64" cy="37.65" r="4.3" stroke="#1f3af5"/>
<circle cx="300.89" cy="29.8" r="4.3" stroke="#f84848"/>
<circle cx="297.03" cy="29.97" r="4.3" stroke="#f84848"/>
<circle cx="302.36" cy="36.99" r="4.3" stroke="#1f3af5"/>
<circle cx="301.37" cy="29.83" r="4.3" stroke="#f84848"/>
<circle cx="299.61" cy="39" r="4.3" stroke="#1f3af5"/>
<circle cx="302.75" cy="36.88" r="4.3" stroke="#1f3af5"/>
<circle cx="300.05" cy="30.17" r="4.3" stroke="#f84848"/>
<circle cx="300.67" cy="29.62" r="4.3" stroke="#f84848"/>
<circle cx="299.18" cy="28.54" r="4.3" stroke="#f84848"/>
<circle cx="301.8" cy="37.56" r="4.3" stroke="#1f3af5"/>
<circle cx="303.68" cy="28.39" r="4.3" stroke="#f84848"/>
<circle cx="302.87" cy="29.35" r="4.3" stroke="#f84848"/>
<circle cx="304.89" cy="29.87" r="4.3" stroke="#f84848"/>
<circle cx="299.68" cy="37.57" r="4.3" stroke="#1f3af5"/>
<circle cx="305.47" cy="31.56" r="4.3" stroke="#f84848"/>
<circle cx="306.63" cy="31.09" r="4.3" stroke="#f84848"/>
<circle cx="303.18" cy="29.41" r="4.3" stroke="#f84848"/>
<circle cx="304.78" cy="38.01" r="4.3" stroke="#1f3af5"/>
<circle cx="304.29" cy="38.03" r="4.3" stroke="#1f3af5"/>
<circle cx="309.53" cy="31.2" r="4.3" stroke="#f84848"/>
<circle cx="307.01" cy="37.11" r="4.3" stroke="#1f3af5"/>
<circle cx="308.24" cy="30.54" r="4.3" stroke="#f84848"/>
<circle cx="309.42" cy="29.85" r="4.3" stroke="#f84848"/>
<circle cx="306.41" cy="36.84" r="4.3" stroke="#1f3af5"/>
<circle cx="310.85" cy="29.64" r="4.3" stroke="#f84848"/>
<circle cx="308.26" cy="38.17" r="4.3" stroke="#1f3af5"/>
<circle cx="309.21" cy="38.2" r="4.3" stroke="#1f3af5"/>
<circle cx="306.57" cy="31.68" r="4.3" stroke="#f84848"/>
<circle cx="311.89" cy="38.24" r="4.3" stroke="#1f3af5"/>
<circle cx="308.13" cy="29.29" r="4.3" stroke="#f84848"/>
<circle cx="313.88" cy="29.82" r="4.3" stroke="#f84848"/>
<circle cx="310.6" cy="37.35" r="4.3" stroke="#1f3af5"/>
<circle cx="310.65" cy="29.84" r="4.3" stroke="#f84848"/>
<circle cx="313.06" cy="38.2" r="4.3" stroke="#1f3af5"/>
<circle cx="313.36" cy="36.55" r="4.3" stroke="#1f3af5"/>
<circle cx="315.03" cy="38.09" r="4.3" stroke="#1f3af5"/>
<circle cx="316.5" cy="37.4" r="4.3" stroke="#1f3af5"/>
<circle cx="311.92" cy="29.98" r="4.3" stroke="#f84848"/>
<circle cx="312.66" cy="29.51" r="4.3" stroke="#f84848"/>
<circle cx="314.3" cy="28.92" r="4.3" stroke="#f84848"/>
<circle cx="314.55" cy="29.56" r="4.3" stroke="#f84848"/>
<circle cx="314.68" cy="37.58" r="4.3" stroke="#1f3af5"/>
<circle cx="318.23" cy="36.3" r="4.3" stroke="#1f3af5"/>
<circle cx="317.02" cy="29.84" r="4.3" stroke="#f84848"/>
<circle cx="317.72" cy="30.38" r="4.3" stroke="#f84848"/>
<circle cx="318.25" cy="37.6" r="4.3" stroke="#1f3af5"/>
<circle cx="317.79" cy="29.69" r="4.3" stroke="#f84848"/>
<circle cx="319.17" cy="28.9" r="4.3" stroke="#f84848"/>
<circle cx="318.63" cy="30.54" r="4.3" stroke="#f84848"/>
<circle cx="316.42" cy="31.95" r="4.3" stroke="#f84848"/>
<circle cx="321.7" cy="30.14" r="4.3" stroke="#f84848"/>
<circle cx="323.61" cy="37.01" r="4.3" stroke="#1f3af5"/>
<circle cx="319.78" cy="29.71" r="4.3" stroke="#f84848"/>
<circle cx="320.95" cy="38.91" r="4.3" stroke="#1f3af5"/>
<circle cx="320.19" cy="38.33" r="4.3" stroke="#1f3af5"/>
<circle cx="322.78" cy="31.3" r="4.3" stroke="#f84848"/>
<circle cx="320.41" cy="30.73" r="4.3" stroke="#f84848"/>
<circle cx="323.16" cy="39.63" r="4.3" stroke="#1f3af5"/>
<circle cx="324.34" cy="29.29" r="4.3" stroke="#f84848"/>
<circle cx="321.55" cy="36.27" r="4.3" stroke="#1f3af5"/>
<circle cx="321.98" cy="30.01" r="4.3" stroke="#f84848"/>
<circle cx="324.62" cy="29.97" r="4.3" stroke="#f84848"/>
<circle cx="325.36" cy="38.47" r="4.3" stroke="#1f3af5"/>
<circle cx="326.31" cy="31.24" r="4.3" stroke="#f84848"/>
<circle cx="326.49" cy="38.49" r="4.3" stroke="#1f3af5"/>
<circle cx="328.05" cy="29.42" r="4.3" stroke="#f84848"/>
<circle cx="326.56" cy="28.14" r="4.3" stroke="#f84848"/>
<circle cx="329.62" cy="38.24" r="4.3" stroke="#1f3af5"/>
<circle cx="325.42" cy="38.66" r="4.3" stroke="#1f3af5"/>
<circle cx="329.94" cy="30.45" r="4.3" stroke="#f84848"/>
<circle cx="324.99" cy="29.43" r="4.3" stroke="#f84848"/>
<circle cx="328.95" cy="36.99" r="4.3" stroke="#1f3af5"/>
<circle cx="328.28" cy="37.9" r="4.3" stroke="#1f3af5"/>
<circle cx="327.61" cy="29.3" r="4.3" stroke="#f84848"/>
<circle cx="329.07" cy="30.5" r="4.3" stroke="#f84848"/>
<circle cx="331.86" cy="36.03" r="4.3" stroke="#1f3af5"/>
<circle cx="331.09" cy="37.3" r="4.3" stroke="#1f3af5"/>
<circle cx="330.56" cy="31.16" r="4.3" stroke="#f84848"/>
<circle cx="333.19" cy="39.78" r="4.3" stroke="#1f3af5"/>
<circle cx="331.13" cy="28.48" r="4.3" stroke="#f84848"/>
<circle cx="334.45" cy="38.3" r="4.3" stroke="#1f3af5"/>
<circle cx="334.46" cy="29.07" r="4.3" stroke="#f84848"/>
<circle cx="336.81" cy="28.55" r="4.3" stroke="#f84848"/>
<circle cx="333.07" cy="29.3" r="4.3" stroke="#f84848"/>
<circle cx="332.34" cy="30.58" r="4.3" stroke="#f84848"/>
<circle cx="335.69" cy="37.16" r="4.3" stroke="#1f3af5"/>
<circle cx="336.93" cy="29.57" r="4.3" stroke="#f84848"/>
<circle cx="333.17" cy="29.64" r="4.3" stroke="#f84848"/>
<circle cx="336.24" cy="28.03" r="4.3" stroke="#f84848"/>
<circle cx="333.76" cy="30.39" r="4.3" stroke="#f84848"/>
<circle cx="335.62" cy="39.07" r="4.3" stroke="#1f3af5"/>
<circle cx="340.07" cy="31.33" r="4.3" stroke="#f84848"/>
<circle cx="338.86" cy="38.91" r="4.3" stroke="#1f3af5"/>
<circle cx="337.36" cy="38.83" r="4.3" stroke="#1f3af5"/>
<circle cx="338.43" cy="29.32" r="4.3" stroke="#f84848"/>
<circle cx="340.99" cy="28.52" r="4.3" stroke="#f84848"/>
<circle cx="338.25" cy="30.23" r="4.3" stroke="#f84848"/>
<circle cx="340.66" cy="37.79" r="4.3" stroke="#1f3af5"/>
<circle cx="340.88" cy="36.96" r="4.3" stroke="#1f3af5"/>
<circle cx="339.26" cy="38.89" r="4.3" stroke="#1f3af5"/>
<circle cx="342.05" cy="29.22" r="4.3" stroke="#f84848"/>
<circle cx="339.34" cy="30.18" r="4.3" stroke="#f84848"/>
<circle cx="341.3" cy="29.72" r="4.3" stroke="#f84848"/>
<circle cx="345.17" cy="29.32" r="4.3" stroke="#f84848"/>
<circle cx="343.52" cy="36.26" r="4.3" stroke="#1f3af5"/>
<circle cx="345.83" cy="37.86" r="4.3" stroke="#1f3af5"/>
<circle cx="343.13" cy="29.07" r="4.3" stroke="#f84848"/>
<circle cx="342.84" cy="37.68" r="4.3" stroke="#1f3af5"/>
<circle cx="344.16" cy="30.29" r="4.3" stroke="#f84848"/>
<circle cx="343.23" cy="28.8" r="4.3" stroke="#f84848"/>
<circle cx="346.41" cy="28.12" r="4.3" stroke="#f84848"/>
<circle cx="347.01" cy="37.68" r="4.3" stroke="#1f3af5"/>
<circle cx="344.92" cy="36.61" r="4.3" stroke="#1f3af5"/>
<circle cx="347.81" cy="29.8" r="4.3" stroke="#f84848"/>
<circle cx="346.96" cy="37.11" r="4.3" stroke="#1f3af5"/>
<circle cx="347" cy="30.53" r="4.3" stroke="#f84848"/>
<circle cx="350.04" cy="30.47" r="4.3" stroke="#f84848"/>
<circle cx="348.47" cy="30.22" r="4.3" stroke="#f84848"/>
<circle cx="351.38" cy="31.01" r="4.3" stroke="#f84848"/>
<circle cx="349.14" cy="30" r="4.3" stroke="#f84848"/>
<circle cx="350.35" cy="38.71" r="4.3" stroke="#1f3af5"/>
<circle cx="349.24" cy="39.15" r="4.3" stroke="#1f3af5"/>
<circle cx="348.83" cy="37.72" r="4.3" stroke="#1f3af5"/>
<circle cx="353.61" cy="30.27" r="4.3" stroke="#f84848"/>
<circle cx="350.58" cy="29.93" r="4.3" stroke="#f84848"/>
<circle cx="352.16" cy="30.25" r="4.3" stroke="#f84848"/>
<circle cx="355.27" cy="37.56" r="4.3" stroke="#1f3af5"/>
<circle cx="352.8" cy="38.65" r="4.3" stroke="#1f3af5"/>
<circle cx="351.59" cy="30.28" r="4.3" stroke="#f84848"/>
<circle cx="351.45" cy="37.77" r="4.3" stroke="#1f3af5"/>
<circle cx="356.03" cy="30.09" r="4.3" stroke="#f84848"/>
<circle cx="353.63" cy="28.59" r="4.3" stroke="#f84848"/>
<circle cx="353.88" cy="37.25" r="4.3" stroke="#1f3af5"/>
<circle cx="357.68" cy="37.6" r="4.3" stroke="#1f3af5"/>
<circle cx="358.46" cy="29.99" r="4.3" stroke="#f84848"/>
<circle cx="355.62" cy="29.67" r="4.3" stroke="#f84848"/>
<circle cx="355.27" cy="29.75" r="4.3" stroke="#f84848"/>
<circle cx="359.25" cy="36.88" r="4.3" stroke="#1f3af5"/>
<circle cx="355.2" cy="38.44" r="4.3" stroke="#1f3af5"/>
<circle cx="356.45" cy="36.93" r="4.3" stroke="#1f3af5"/>
<circle cx="360.74" cy="29.65" r="4.3" stroke="#f84848"/>
<circle cx="357.29" cy="31.37" r="4.3" stroke="#f84848"/>
<circle cx="362.27" cy="37.27" r="4.3" stroke="#1f3af5"/>
<circle cx="359.96" cy="37.88" r="4.3" stroke="#1f3af5"/>
<circle cx="357.5" cy="28.68" r="4.3" stroke="#f84848"/>
<circle cx="360.47" cy="28.36" r="4.3" stroke="#f84848"/>
<circle cx="358.69" cy="28.81" r="4.3" stroke="#f84848"/>
<circle cx="361.86" cy="29.25" r="4.3" stroke="#f84848"/>
<circle cx="360.95" cy="38.94" r="4.3" stroke="#1f3af5"/>
<circle cx="363.77" cy="37.17" r="4.3" stroke="#1f3af5"/>
<circle cx="365.6" cy="29.25" r="4.3" stroke="#f84848"/>
<circle cx="361.75" cy="29.82" r="4.3" stroke="#f84848"/>
<circle cx="363.21" cy="29.98" r="4.3" stroke="#f84848"/>
<circle cx="364.49" cy="30.4" r="4.3" stroke="#f84848"/>
<circle cx="363.83" cy="29.32" r="4.3" stroke="#f84848"/>
<circle cx="363.18" cy="37.96" r="4.3" stroke="#1f3af5"/>
<circle cx="368.63" cy="38.14" r="4.3" stroke="#1f3af5"/>
<circle cx="368.4" cy="28.99" r="4.3" stroke="#f84848"/>
<circle cx="368.26" cy="39.45" r="4.3" stroke="#1f3af5"/>
<circle cx="367.57" cy="38.82" r="4.3" stroke="#1f3af5"/>
<circle cx="364.56" cy="37" r="4.3" stroke="#1f3af5"/>
<circle cx="366.04" cy="36.93" r="4.3" stroke="#1f3af5"/>
<circle cx="366.42" cy="30.78" r="4.3" stroke="#f84848"/>
<circle cx="365.71" cy="29.87" r="4.3" stroke="#f84848"/>
<circle cx="370.13" cy="37.3" r="4.3" stroke="#1f3af5"/>
<circle cx="369.85" cy="30.61" r="4.3" stroke="#f84848"/>
<circle cx="367.49" cy="32.21" r="4.3" stroke="#f84848"/>
<circle cx="368.53" cy="29.48" r="4.3" stroke="#f84848"/>
<circle cx="369.67" cy="29.14" r="4.3" stroke="#f84848"/>
</g>
<g clip-path="url(#clipCE)" fill="#fff" stroke="#f2a46c" stroke-width="1.55">
<circle cx="62.46" cy="46.71" r="4.3"/>
<circle cx="63.36" cy="46.87" r="4.3"/>
<circle cx="64.26" cy="44.43" r="4.3"/>
<circle cx="64.34" cy="46.33" r="4.3"/>
<circle cx="65.76" cy="44.63" r="4.3"/>
<circle cx="65.73" cy="47.54" r="4.3"/>
<circle cx="67.24" cy="46.66" r="4.3"/>
<circle cx="67.95" cy="46.02" r="4.3"/>
<circle cx="67.76" cy="44.06" r="4.3"/>
<circle cx="69.35" cy="46.17" r="4.3"/>
<circle cx="69.89" cy="44.89" r="4.3"/>
<circle cx="70.63" cy="47.02" r="4.3"/>
<circle cx="71.53" cy="45.83" r="4.3"/>
<circle cx="71.9" cy="44.82" r="4.3"/>
<circle cx="72.6" cy="47.34" r="4.3"/>
<circle cx="73.16" cy="47.05" r="4.3"/>
<circle cx="74.5" cy="45.14" r="4.3"/>
<circle cx="75.27" cy="47.68" r="4.3"/>
<circle cx="75.12" cy="45.57" r="4.3"/>
<circle cx="76.59" cy="45.55" r="4.3"/>
<circle cx="76.73" cy="46.18" r="4.3"/>
<circle cx="77.35" cy="44.91" r="4.3"/>
<circle cx="78.1" cy="45.36" r="4.3"/>
<circle cx="79.29" cy="45.77" r="4.3"/>
<circle cx="79.67" cy="48.22" r="4.3"/>
<circle cx="80.36" cy="48.17" r="4.3"/>
<circle cx="80.92" cy="45.62" r="4.3"/>
<circle cx="81.93" cy="48.34" r="4.3"/>
<circle cx="83.2" cy="45.94" r="4.3"/>
<circle cx="83.04" cy="46.55" r="4.3"/>
<circle cx="84.32" cy="47.28" r="4.3"/>
<circle cx="85.2" cy="46.42" r="4.3"/>
<circle cx="85.27" cy="49.5" r="4.3"/>
<circle cx="86.3" cy="46.35" r="4.3"/>
<circle cx="87.77" cy="44.26" r="4.3"/>
<circle cx="88.61" cy="47.89" r="4.3"/>
<circle cx="89.17" cy="45.4" r="4.3"/>
<circle cx="89.09" cy="45.56" r="4.3"/>
<circle cx="90.54" cy="41.66" r="4.3"/>
<circle cx="90.9" cy="47.45" r="4.3"/>
<circle cx="91.3" cy="47.19" r="4.3"/>
<circle cx="92.41" cy="47.16" r="4.3"/>
<circle cx="93.67" cy="47.42" r="4.3"/>
<circle cx="94.35" cy="48.45" r="4.3"/>
<circle cx="94.5" cy="45.93" r="4.3"/>
<circle cx="94.84" cy="47.36" r="4.3"/>
<circle cx="96.58" cy="44.92" r="4.3"/>
<circle cx="97.42" cy="45.49" r="4.3"/>
<circle cx="97.59" cy="47.53" r="4.3"/>
<circle cx="97.98" cy="46.57" r="4.3"/>
<circle cx="99.09" cy="44.07" r="4.3"/>
<circle cx="100.01" cy="46.52" r="4.3"/>
<circle cx="100.49" cy="45.73" r="4.3"/>
<circle cx="101.07" cy="44.81" r="4.3"/>
<circle cx="101.68" cy="46.63" r="4.3"/>
<circle cx="102.47" cy="45.41" r="4.3"/>
<circle cx="102.91" cy="43.72" r="4.3"/>
<circle cx="103.89" cy="44.39" r="4.3"/>
<circle cx="105.46" cy="48.57" r="4.3"/>
<circle cx="105.07" cy="43.8" r="4.3"/>
<circle cx="106.66" cy="46.32" r="4.3"/>
<circle cx="107.47" cy="46.88" r="4.3"/>
<circle cx="107.75" cy="46.93" r="4.3"/>
<circle cx="108.71" cy="44.22" r="4.3"/>
<circle cx="109" cy="45.53" r="4.3"/>
<circle cx="110.27" cy="46.2" r="4.3"/>
<circle cx="111.05" cy="47.16" r="4.3"/>
<circle cx="111.82" cy="45.06" r="4.3"/>
<circle cx="112.26" cy="44.31" r="4.3"/>
<circle cx="113.57" cy="47.45" r="4.3"/>
<circle cx="114.18" cy="47.6" r="4.3"/>
<circle cx="114.56" cy="46.54" r="4.3"/>
<circle cx="115.43" cy="45.12" r="4.3"/>
<circle cx="115.67" cy="46.59" r="4.3"/>
<circle cx="117.21" cy="46.16" r="4.3"/>
<circle cx="117.59" cy="47.21" r="4.3"/>
<circle cx="118.62" cy="44.19" r="4.3"/>
<circle cx="118.63" cy="46.17" r="4.3"/>
<circle cx="120.2" cy="45.77" r="4.3"/>
<circle cx="119.88" cy="44.39" r="4.3"/>
<circle cx="121.12" cy="46.31" r="4.3"/>
<circle cx="121.36" cy="46.05" r="4.3"/>
<circle cx="122.19" cy="45.4" r="4.3"/>
<circle cx="123.61" cy="46.57" r="4.3"/>
<circle cx="123.51" cy="43.94" r="4.3"/>
<circle cx="124.62" cy="45.92" r="4.3"/>
<circle cx="125.13" cy="46.63" r="4.3"/>
<circle cx="126.65" cy="46.41" r="4.3"/>
<circle cx="126.47" cy="47.56" r="4.3"/>
<circle cx="127.51" cy="44.26" r="4.3"/>
<circle cx="128.86" cy="43.81" r="4.3"/>
<circle cx="129.4" cy="46.35" r="4.3"/>
<circle cx="130.15" cy="46.66" r="4.3"/>
<circle cx="131.23" cy="49.07" r="4.3"/>
<circle cx="130.8" cy="46.89" r="4.3"/>
<circle cx="132.31" cy="44.73" r="4.3"/>
<circle cx="133.14" cy="47.17" r="4.3"/>
<circle cx="133.88" cy="44.77" r="4.3"/>
<circle cx="134.57" cy="43.85" r="4.3"/>
<circle cx="134.54" cy="49.78" r="4.3"/>
<circle cx="135.29" cy="46.47" r="4.3"/>
<circle cx="136.85" cy="47.04" r="4.3"/>
<circle cx="137.39" cy="46.82" r="4.3"/>
<circle cx="137.7" cy="48.63" r="4.3"/>
<circle cx="138.14" cy="46.41" r="4.3"/>
<circle cx="139.5" cy="47.77" r="4.3"/>
<circle cx="139.7" cy="44.51" r="4.3"/>
<circle cx="141.23" cy="43.98" r="4.3"/>
<circle cx="141.47" cy="48.07" r="4.3"/>
<circle cx="142.77" cy="48.14" r="4.3"/>
<circle cx="142.65" cy="46.74" r="4.3"/>
<circle cx="143.86" cy="46.33" r="4.3"/>
<circle cx="144.12" cy="46.24" r="4.3"/>
<circle cx="145.67" cy="45" r="4.3"/>
<circle cx="146.14" cy="48.23" r="4.3"/>
<circle cx="146.49" cy="46.96" r="4.3"/>
<circle cx="148.1" cy="46.73" r="4.3"/>
<circle cx="148.5" cy="46.55" r="4.3"/>
<circle cx="148.82" cy="47.52" r="4.3"/>
<circle cx="150.17" cy="46.73" r="4.3"/>
<circle cx="150.34" cy="47.08" r="4.3"/>
<circle cx="151.75" cy="44.31" r="4.3"/>
<circle cx="151.71" cy="46.74" r="4.3"/>
<circle cx="153.27" cy="49.17" r="4.3"/>
<circle cx="152.9" cy="45.25" r="4.3"/>
<circle cx="154.44" cy="45.81" r="4.3"/>
<circle cx="154.64" cy="47.29" r="4.3"/>
<circle cx="155.53" cy="47.39" r="4.3"/>
<circle cx="156.52" cy="46.91" r="4.3"/>
<circle cx="156.55" cy="43.65" r="4.3"/>
<circle cx="157.5" cy="46.73" r="4.3"/>
<circle cx="158.09" cy="44.28" r="4.3"/>
<circle cx="159.59" cy="44.8" r="4.3"/>
<circle cx="159.7" cy="46.79" r="4.3"/>
<circle cx="160.77" cy="45.57" r="4.3"/>
<circle cx="161.3" cy="47.17" r="4.3"/>
<circle cx="161.92" cy="50.56" r="4.3"/>
<circle cx="163.5" cy="47.13" r="4.3"/>
<circle cx="163.72" cy="47.05" r="4.3"/>
<circle cx="164.62" cy="44.7" r="4.3"/>
<circle cx="165.42" cy="45.07" r="4.3"/>
<circle cx="166.3" cy="44.46" r="4.3"/>
<circle cx="166.36" cy="45.23" r="4.3"/>
<circle cx="166.88" cy="44.42" r="4.3"/>
<circle cx="168.08" cy="45.04" r="4.3"/>
<circle cx="168.46" cy="45.7" r="4.3"/>
<circle cx="169.01" cy="44.55" r="4.3"/>
<circle cx="170.83" cy="43.94" r="4.3"/>
<circle cx="171.21" cy="44.03" r="4.3"/>
<circle cx="171.69" cy="46.66" r="4.3"/>
<circle cx="172.09" cy="46.09" r="4.3"/>
<circle cx="173.58" cy="47.49" r="4.3"/>
<circle cx="174.04" cy="47.51" r="4.3"/>
<circle cx="174.34" cy="45.51" r="4.3"/>
<circle cx="176.04" cy="46.97" r="4.3"/>
<circle cx="176.74" cy="43.91" r="4.3"/>
<circle cx="177.45" cy="49.31" r="4.3"/>
<circle cx="178.06" cy="47.73" r="4.3"/>
<circle cx="178.44" cy="45.69" r="4.3"/>
<circle cx="178.9" cy="44.31" r="4.3"/>
<circle cx="180.06" cy="46.55" r="4.3"/>
<circle cx="180.19" cy="43.29" r="4.3"/>
<circle cx="181.49" cy="44.87" r="4.3"/>
<circle cx="181.56" cy="47.09" r="4.3"/>
<circle cx="182.23" cy="46.11" r="4.3"/>
<circle cx="183.81" cy="45.29" r="4.3"/>
<circle cx="184.1" cy="47.38" r="4.3"/>
<circle cx="185.26" cy="44.49" r="4.3"/>
<circle cx="186.09" cy="46.41" r="4.3"/>
<circle cx="186.89" cy="45.28" r="4.3"/>
<circle cx="187.36" cy="44.77" r="4.3"/>
<circle cx="188.37" cy="46.67" r="4.3"/>
<circle cx="188.88" cy="44.56" r="4.3"/>
<circle cx="189.94" cy="48.76" r="4.3"/>
<circle cx="190.64" cy="45.15" r="4.3"/>
<circle cx="190.35" cy="48.89" r="4.3"/>
<circle cx="191.35" cy="44.41" r="4.3"/>
<circle cx="192.23" cy="46.88" r="4.3"/>
<circle cx="192.81" cy="44.26" r="4.3"/>
<circle cx="193.45" cy="44.06" r="4.3"/>
<circle cx="195.02" cy="46.23" r="4.3"/>
<circle cx="194.74" cy="46.98" r="4.3"/>
<circle cx="195.66" cy="44.15" r="4.3"/>
<circle cx="197.09" cy="47.72" r="4.3"/>
<circle cx="197.18" cy="44.84" r="4.3"/>
<circle cx="197.96" cy="46.19" r="4.3"/>
<circle cx="199.54" cy="46.55" r="4.3"/>
<circle cx="200.03" cy="46.86" r="4.3"/>
<circle cx="200.39" cy="43.39" r="4.3"/>
<circle cx="200.75" cy="48.35" r="4.3"/>
<circle cx="201.64" cy="46.81" r="4.3"/>
<circle cx="203.23" cy="45.38" r="4.3"/>
<circle cx="203.74" cy="44.51" r="4.3"/>
<circle cx="203.61" cy="43.54" r="4.3"/>
<circle cx="205.11" cy="44.03" r="4.3"/>
<circle cx="205.45" cy="46.79" r="4.3"/>
<circle cx="206.59" cy="45.51" r="4.3"/>
<circle cx="206.82" cy="44.36" r="4.3"/>
<circle cx="207.36" cy="45.24" r="4.3"/>
<circle cx="207.96" cy="48.27" r="4.3"/>
<circle cx="209.02" cy="45.52" r="4.3"/>
<circle cx="210.44" cy="45.15" r="4.3"/>
<circle cx="211.21" cy="47.96" r="4.3"/>
<circle cx="211.69" cy="46.67" r="4.3"/>
<circle cx="212.51" cy="46.06" r="4.3"/>
<circle cx="212.58" cy="45.12" r="4.3"/>
<circle cx="213.5" cy="43.75" r="4.3"/>
<circle cx="214.89" cy="44.3" r="4.3"/>
<circle cx="215.73" cy="45.3" r="4.3"/>
<circle cx="215.81" cy="45.68" r="4.3"/>
<circle cx="216.95" cy="46.52" r="4.3"/>
<circle cx="217.87" cy="46.8" r="4.3"/>
<circle cx="218.68" cy="46.32" r="4.3"/>
<circle cx="218.58" cy="46.32" r="4.3"/>
<circle cx="219.74" cy="44.54" r="4.3"/>
<circle cx="220.16" cy="42.88" r="4.3"/>
<circle cx="220.98" cy="45.24" r="4.3"/>
<circle cx="221.72" cy="44.62" r="4.3"/>
<circle cx="222.23" cy="45.05" r="4.3"/>
<circle cx="222.65" cy="45.6" r="4.3"/>
<circle cx="224.29" cy="44.2" r="4.3"/>
<circle cx="224.94" cy="44.39" r="4.3"/>
<circle cx="225.84" cy="45.85" r="4.3"/>
<circle cx="225.75" cy="46.17" r="4.3"/>
<circle cx="226.59" cy="45.05" r="4.3"/>
<circle cx="227.76" cy="46.72" r="4.3"/>
<circle cx="228.9" cy="45.68" r="4.3"/>
<circle cx="229.08" cy="44.52" r="4.3"/>
<circle cx="229.49" cy="46.06" r="4.3"/>
<circle cx="230.69" cy="48.73" r="4.3"/>
<circle cx="231.86" cy="45.02" r="4.3"/>
<circle cx="232.49" cy="47.69" r="4.3"/>
<circle cx="233.26" cy="48" r="4.3"/>
<circle cx="233.41" cy="48.17" r="4.3"/>
<circle cx="233.97" cy="44.81" r="4.3"/>
<circle cx="235.43" cy="48.92" r="4.3"/>
<circle cx="236.07" cy="46.17" r="4.3"/>
<circle cx="236.88" cy="45.63" r="4.3"/>
<circle cx="237.06" cy="45.67" r="4.3"/>
<circle cx="237.67" cy="46.87" r="4.3"/>
<circle cx="238.35" cy="46.07" r="4.3"/>
<circle cx="239.84" cy="45.74" r="4.3"/>
<circle cx="240.64" cy="47.86" r="4.3"/>
<circle cx="240.71" cy="44.95" r="4.3"/>
<circle cx="242.05" cy="44.49" r="4.3"/>
<circle cx="242.19" cy="47.15" r="4.3"/>
<circle cx="243.01" cy="47.02" r="4.3"/>
<circle cx="243.89" cy="47.59" r="4.3"/>
<circle cx="244.21" cy="44.45" r="4.3"/>
<circle cx="245" cy="47.57" r="4.3"/>
<circle cx="245.73" cy="46.7" r="4.3"/>
<circle cx="246.46" cy="48.56" r="4.3"/>
<circle cx="247.5" cy="44.19" r="4.3"/>
<circle cx="247.74" cy="46.32" r="4.3"/>
<circle cx="249.29" cy="45.6" r="4.3"/>
<circle cx="249.3" cy="43.69" r="4.3"/>
<circle cx="250.35" cy="44.96" r="4.3"/>
<circle cx="251.33" cy="47.63" r="4.3"/>
<circle cx="251.46" cy="45.32" r="4.3"/>
<circle cx="252.52" cy="44.95" r="4.3"/>
<circle cx="253.44" cy="47.26" r="4.3"/>
<circle cx="254.15" cy="47.43" r="4.3"/>
<circle cx="255.3" cy="47.43" r="4.3"/>
<circle cx="255.91" cy="44.85" r="4.3"/>
<circle cx="255.84" cy="45.92" r="4.3"/>
<circle cx="257.43" cy="47.49" r="4.3"/>
<circle cx="257.83" cy="45.05" r="4.3"/>
<circle cx="258.72" cy="44.91" r="4.3"/>
<circle cx="258.83" cy="47.2" r="4.3"/>
<circle cx="259.94" cy="48.27" r="4.3"/>
<circle cx="260.95" cy="44.33" r="4.3"/>
<circle cx="261.8" cy="42.23" r="4.3"/>
<circle cx="262.54" cy="43.9" r="4.3"/>
<circle cx="262.57" cy="44.53" r="4.3"/>
<circle cx="264.05" cy="45.8" r="4.3"/>
<circle cx="264.46" cy="46.89" r="4.3"/>
<circle cx="265.32" cy="45.79" r="4.3"/>
<circle cx="266.27" cy="44.98" r="4.3"/>
<circle cx="266.47" cy="46.22" r="4.3"/>
<circle cx="267.83" cy="44.61" r="4.3"/>
<circle cx="268.51" cy="45.93" r="4.3"/>
<circle cx="269.16" cy="45.07" r="4.3"/>
<circle cx="269.38" cy="49.89" r="4.3"/>
<circle cx="270.29" cy="47.18" r="4.3"/>
<circle cx="270.6" cy="44.79" r="4.3"/>
<circle cx="272.04" cy="44.55" r="4.3"/>
<circle cx="272.93" cy="45.36" r="4.3"/>
<circle cx="272.79" cy="43.61" r="4.3"/>
<circle cx="274.23" cy="44.94" r="4.3"/>
<circle cx="274.9" cy="44.93" r="4.3"/>
<circle cx="274.85" cy="47.28" r="4.3"/>
<circle cx="276.64" cy="45.38" r="4.3"/>
<circle cx="276.85" cy="44.85" r="4.3"/>
<circle cx="277.33" cy="44.06" r="4.3"/>
<circle cx="277.78" cy="44.29" r="4.3"/>
<circle cx="279.42" cy="45.9" r="4.3"/>
<circle cx="279.62" cy="45.69" r="4.3"/>
<circle cx="280.57" cy="47.64" r="4.3"/>
<circle cx="280.92" cy="45.09" r="4.3"/>
<circle cx="282.15" cy="47.54" r="4.3"/>
<circle cx="282.63" cy="46.37" r="4.3"/>
<circle cx="283.86" cy="45.99" r="4.3"/>
<circle cx="284.42" cy="43.09" r="4.3"/>
<circle cx="285.22" cy="44.13" r="4.3"/>
<circle cx="285.39" cy="47.08" r="4.3"/>
<circle cx="285.9" cy="48.03" r="4.3"/>
<circle cx="287.62" cy="46.3" r="4.3"/>
<circle cx="288.42" cy="47.11" r="4.3"/>
<circle cx="288.8" cy="45.41" r="4.3"/>
<circle cx="289.87" cy="45.46" r="4.3"/>
<circle cx="290.35" cy="45.04" r="4.3"/>
<circle cx="290.96" cy="47.41" r="4.3"/>
<circle cx="291.47" cy="46.5" r="4.3"/>
<circle cx="292.13" cy="45.66" r="4.3"/>
<circle cx="293.03" cy="45.52" r="4.3"/>
<circle cx="293.44" cy="46.81" r="4.3"/>
<circle cx="294.42" cy="46.47" r="4.3"/>
<circle cx="295.25" cy="44.79" r="4.3"/>
<circle cx="295.42" cy="48.49" r="4.3"/>
<circle cx="296.59" cy="46.37" r="4.3"/>
<circle cx="297.19" cy="46.02" r="4.3"/>
<circle cx="298.35" cy="48.14" r="4.3"/>
<circle cx="299.29" cy="47.48" r="4.3"/>
<circle cx="299.79" cy="45.87" r="4.3"/>
<circle cx="300.59" cy="46.78" r="4.3"/>
<circle cx="301.26" cy="44.45" r="4.3"/>
<circle cx="301.57" cy="45.07" r="4.3"/>
<circle cx="302.45" cy="42.72" r="4.3"/>
<circle cx="303.74" cy="47.77" r="4.3"/>
<circle cx="304.6" cy="43.25" r="4.3"/>
<circle cx="304.42" cy="46.99" r="4.3"/>
<circle cx="304.95" cy="44.8" r="4.3"/>
<circle cx="306.82" cy="44.58" r="4.3"/>
<circle cx="307.43" cy="45.72" r="4.3"/>
<circle cx="307.87" cy="46.39" r="4.3"/>
<circle cx="308.85" cy="46.89" r="4.3"/>
<circle cx="309.32" cy="48.57" r="4.3"/>
<circle cx="310.43" cy="46.52" r="4.3"/>
<circle cx="310.37" cy="47.28" r="4.3"/>
<circle cx="311.35" cy="45.13" r="4.3"/>
<circle cx="312.35" cy="47.03" r="4.3"/>
<circle cx="312.54" cy="46.22" r="4.3"/>
<circle cx="313.87" cy="45.33" r="4.3"/>
<circle cx="314.07" cy="45.86" r="4.3"/>
<circle cx="315.34" cy="45.91" r="4.3"/>
<circle cx="316.19" cy="46.28" r="4.3"/>
<circle cx="316.47" cy="46.58" r="4.3"/>
<circle cx="317.88" cy="45.26" r="4.3"/>
<circle cx="318.18" cy="44.93" r="4.3"/>
<circle cx="319.07" cy="47.08" r="4.3"/>
<circle cx="318.92" cy="43.54" r="4.3"/>
<circle cx="319.77" cy="45.1" r="4.3"/>
<circle cx="321.22" cy="48.25" r="4.3"/>
<circle cx="322.23" cy="42.07" r="4.3"/>
<circle cx="322.59" cy="45" r="4.3"/>
<circle cx="323.67" cy="47" r="4.3"/>
<circle cx="323.38" cy="43.61" r="4.3"/>
<circle cx="325.11" cy="49.77" r="4.3"/>
<circle cx="325.83" cy="42.25" r="4.3"/>
<circle cx="326.26" cy="48.08" r="4.3"/>
<circle cx="326.76" cy="48.26" r="4.3"/>
<circle cx="327.82" cy="47.33" r="4.3"/>
<circle cx="328.01" cy="45.68" r="4.3"/>
<circle cx="329.25" cy="46.52" r="4.3"/>
<circle cx="330.02" cy="44.7" r="4.3"/>
<circle cx="330.57" cy="47.17" r="4.3"/>
<circle cx="330.97" cy="44.38" r="4.3"/>
<circle cx="331.39" cy="45.6" r="4.3"/>
<circle cx="332.36" cy="47.44" r="4.3"/>
<circle cx="333.86" cy="44.38" r="4.3"/>
<circle cx="333.85" cy="45.47" r="4.3"/>
<circle cx="334.42" cy="46.24" r="4.3"/>
<circle cx="335.36" cy="44.05" r="4.3"/>
<circle cx="336.42" cy="47.69" r="4.3"/>
<circle cx="337.24" cy="46.49" r="4.3"/>
<circle cx="338.32" cy="43.8" r="4.3"/>
<circle cx="339.03" cy="45.93" r="4.3"/>
<circle cx="339.9" cy="44.88" r="4.3"/>
<circle cx="340.53" cy="45.05" r="4.3"/>
<circle cx="340.75" cy="46.11" r="4.3"/>
<circle cx="341.11" cy="44.97" r="4.3"/>
<circle cx="342.82" cy="47.4" r="4.3"/>
<circle cx="342.69" cy="44.98" r="4.3"/>
<circle cx="343.89" cy="47.42" r="4.3"/>
<circle cx="344.2" cy="45.94" r="4.3"/>
<circle cx="345.6" cy="47.24" r="4.3"/>
<circle cx="345.59" cy="45.22" r="4.3"/>
<circle cx="346.59" cy="45.27" r="4.3"/>
<circle cx="347.08" cy="44.33" r="4.3"/>
<circle cx="348.59" cy="46.84" r="4.3"/>
<circle cx="349.03" cy="47.36" r="4.3"/>
<circle cx="349.78" cy="49.07" r="4.3"/>
<circle cx="350.14" cy="47.87" r="4.3"/>
<circle cx="350.71" cy="46.36" r="4.3"/>
<circle cx="352.26" cy="45.69" r="4.3"/>
<circle cx="352.88" cy="46.56" r="4.3"/>
<circle cx="353.58" cy="45.96" r="4.3"/>
<circle cx="354.63" cy="48.12" r="4.3"/>
<circle cx="354.84" cy="47.37" r="4.3"/>
<circle cx="355.12" cy="44.79" r="4.3"/>
<circle cx="356.37" cy="45" r="4.3"/>
<circle cx="356.72" cy="47.98" r="4.3"/>
<circle cx="357.72" cy="46.45" r="4.3"/>
<circle cx="358.39" cy="45.66" r="4.3"/>
<circle cx="359.25" cy="47.72" r="4.3"/>
<circle cx="360.42" cy="45.44" r="4.3"/>
<circle cx="361.02" cy="45.59" r="4.3"/>
<circle cx="361.28" cy="45.33" r="4.3"/>
<circle cx="362.5" cy="43.16" r="4.3"/>
<circle cx="363.28" cy="47.25" r="4.3"/>
<circle cx="363.92" cy="44.25" r="4.3"/>
<circle cx="364.38" cy="45.18" r="4.3"/>
<circle cx="365.54" cy="44.92" r="4.3"/>
<circle cx="365.78" cy="47.05" r="4.3"/>
<circle cx="366.05" cy="45.9" r="4.3"/>
<circle cx="366.99" cy="46.02" r="4.3"/>
<circle cx="368.18" cy="43.56" r="4.3"/>
<circle cx="368.59" cy="45.87" r="4.3"/>
<circle cx="369.37" cy="43.86" r="4.3"/>
<circle cx="370.08" cy="46.45" r="4.3"/>
<circle cx="209" cy="52.2" r="4.3"/>
</g>
<g clip-path="url(#clipCE)" fill="#fff" stroke="#1f3af5" stroke-width="1.55">
<circle cx="73.6" cy="51.6" r="4.3"/>
<circle cx="71.6" cy="54.2" r="4.3"/>
<circle cx="75.7" cy="56.2" r="4.3"/>
<circle cx="76.7" cy="55.2" r="4.3"/>
<circle cx="74.5" cy="53.5" r="4.3"/>
</g>
<g clip-path="url(#clipCE)" fill="none" stroke="#139a13" stroke-width="1.1">
<circle cx="61.97" cy="64.86" r="4.5"/>
<circle cx="65.38" cy="62.81" r="4.5"/>
<circle cx="67.84" cy="65.55" r="4.5"/>
<circle cx="70.54" cy="62.1" r="4.5"/>
<circle cx="73.04" cy="61.74" r="4.5"/>
<circle cx="75.6" cy="60.61" r="4.5"/>
<circle cx="77.75" cy="64.37" r="4.5"/>
<circle cx="80.73" cy="63.68" r="4.5"/>
<circle cx="82.6" cy="63.63" r="4.5"/>
<circle cx="85.77" cy="62.9" r="4.5"/>
<circle cx="87.63" cy="66.96" r="4.5"/>
<circle cx="91.32" cy="62.87" r="4.5"/>
<circle cx="93.8" cy="62.21" r="4.5"/>
<circle cx="95.53" cy="66.54" r="4.5"/>
<circle cx="98.85" cy="66.93" r="4.5"/>
<circle cx="101.5" cy="64.55" r="4.5"/>
<circle cx="103.15" cy="59.97" r="4.5"/>
<circle cx="106.37" cy="62.48" r="4.5"/>
<circle cx="108.78" cy="65.15" r="4.5"/>
<circle cx="111.6" cy="63.84" r="4.5"/>
<circle cx="114.51" cy="67.22" r="4.5"/>
<circle cx="116.9" cy="60.79" r="4.5"/>
<circle cx="118.88" cy="65.29" r="4.5"/>
<circle cx="121.88" cy="62.42" r="4.5"/>
<circle cx="124.47" cy="66.71" r="4.5"/>
<circle cx="126.4" cy="63.63" r="4.5"/>
<circle cx="129.13" cy="66.07" r="4.5"/>
<circle cx="131.99" cy="62.38" r="4.5"/>
<circle cx="134.36" cy="60.7" r="4.5"/>
<circle cx="137.02" cy="61.36" r="4.5"/>
<circle cx="140.13" cy="62.47" r="4.5"/>
<circle cx="143.06" cy="61.55" r="4.5"/>
<circle cx="145.05" cy="66.44" r="4.5"/>
<circle cx="147.86" cy="66.75" r="4.5"/>
<circle cx="150.59" cy="64.4" r="4.5"/>
<circle cx="153.07" cy="61.52" r="4.5"/>
<circle cx="155.63" cy="63.54" r="4.5"/>
<circle cx="157.44" cy="62.29" r="4.5"/>
<circle cx="161.06" cy="67" r="4.5"/>
<circle cx="162.8" cy="64.5" r="4.5"/>
<circle cx="165.41" cy="64.88" r="4.5"/>
<circle cx="168.39" cy="62.92" r="4.5"/>
<circle cx="171.07" cy="59.38" r="4.5"/>
<circle cx="173.86" cy="62.1" r="4.5"/>
<circle cx="175.9" cy="61.34" r="4.5"/>
<circle cx="179.27" cy="64.61" r="4.5"/>
<circle cx="181.47" cy="64.01" r="4.5"/>
<circle cx="184.32" cy="62.04" r="4.5"/>
<circle cx="186.47" cy="62.95" r="4.5"/>
<circle cx="188.57" cy="67.25" r="4.5"/>
<circle cx="191.08" cy="61.69" r="4.5"/>
<circle cx="194.43" cy="61.78" r="4.5"/>
<circle cx="196.76" cy="63.3" r="4.5"/>
<circle cx="199.36" cy="62.26" r="4.5"/>
<circle cx="201.81" cy="62.86" r="4.5"/>
<circle cx="204.22" cy="64.97" r="4.5"/>
<circle cx="207.16" cy="67.61" r="4.5"/>
<circle cx="209.49" cy="59.89" r="4.5"/>
<circle cx="212.84" cy="63.76" r="4.5"/>
<circle cx="214.57" cy="63.89" r="4.5"/>
<circle cx="218.1" cy="63.62" r="4.5"/>
<circle cx="220.56" cy="63.39" r="4.5"/>
<circle cx="222.58" cy="63.05" r="4.5"/>
<circle cx="225.63" cy="66.01" r="4.5"/>
<circle cx="227.99" cy="62.78" r="4.5"/>
<circle cx="230.44" cy="63.52" r="4.5"/>
<circle cx="233.44" cy="63.8" r="4.5"/>
<circle cx="236.05" cy="64.04" r="4.5"/>
<circle cx="237.88" cy="63.42" r="4.5"/>
<circle cx="241.32" cy="66" r="4.5"/>
<circle cx="242.86" cy="63.78" r="4.5"/>
<circle cx="245.41" cy="64.18" r="4.5"/>
<circle cx="248.57" cy="63.69" r="4.5"/>
<circle cx="250.94" cy="61.59" r="4.5"/>
<circle cx="253.67" cy="61.97" r="4.5"/>
<circle cx="256.33" cy="61.49" r="4.5"/>
<circle cx="258.9" cy="64.22" r="4.5"/>
<circle cx="262.02" cy="62.23" r="4.5"/>
<circle cx="264.62" cy="61.46" r="4.5"/>
<circle cx="266.52" cy="64.32" r="4.5"/>
<circle cx="269.04" cy="64.96" r="4.5"/>
<circle cx="272.06" cy="59.93" r="4.5"/>
<circle cx="274.1" cy="67.52" r="4.5"/>
<circle cx="276.93" cy="63.87" r="4.5"/>
<circle cx="279.9" cy="63.57" r="4.5"/>
<circle cx="281.64" cy="66.15" r="4.5"/>
<circle cx="285.14" cy="63.95" r="4.5"/>
<circle cx="287.68" cy="62.47" r="4.5"/>
<circle cx="289.86" cy="68.63" r="4.5"/>
<circle cx="292.28" cy="61.44" r="4.5"/>
<circle cx="295.21" cy="63.59" r="4.5"/>
<circle cx="297.51" cy="65.66" r="4.5"/>
<circle cx="300.73" cy="61.45" r="4.5"/>
<circle cx="303.04" cy="63.58" r="4.5"/>
<circle cx="305.28" cy="64.65" r="4.5"/>
<circle cx="308.47" cy="69.08" r="4.5"/>
<circle cx="310.82" cy="61.84" r="4.5"/>
<circle cx="312.84" cy="63.7" r="4.5"/>
<circle cx="315.76" cy="65.25" r="4.5"/>
<circle cx="318.44" cy="63.98" r="4.5"/>
<circle cx="321.57" cy="61.15" r="4.5"/>
<circle cx="323.41" cy="64.7" r="4.5"/>
<circle cx="326.15" cy="64.04" r="4.5"/>
<circle cx="329.37" cy="64.78" r="4.5"/>
<circle cx="331.3" cy="66.29" r="4.5"/>
<circle cx="334.37" cy="66.03" r="4.5"/>
<circle cx="336.08" cy="64.7" r="4.5"/>
<circle cx="339.02" cy="64.48" r="4.5"/>
<circle cx="341.36" cy="61.38" r="4.5"/>
<circle cx="344.79" cy="63.5" r="4.5"/>
<circle cx="346.98" cy="64.28" r="4.5"/>
<circle cx="349.16" cy="62.92" r="4.5"/>
<circle cx="351.6" cy="64.01" r="4.5"/>
<circle cx="354.58" cy="61.98" r="4.5"/>
<circle cx="356.78" cy="67.18" r="4.5"/>
<circle cx="359.83" cy="68.53" r="4.5"/>
<circle cx="362.71" cy="62.94" r="4.5"/>
<circle cx="364.8" cy="64.68" r="4.5"/>
<circle cx="367.21" cy="63.28" r="4.5"/>
<circle cx="370.03" cy="66.58" r="4.5"/>
<circle cx="75.1" cy="78.9" r="4.5"/>
<circle cx="70.6" cy="70.3" r="4.5"/>
<circle cx="80.9" cy="69.6" r="4.5"/>
<circle cx="88.1" cy="70.7" r="4.5"/>
<circle cx="100.5" cy="73.8" r="4.5"/>
<circle cx="113.9" cy="72.7" r="4.5"/>
<circle cx="123.1" cy="73.4" r="4.5"/>
<circle cx="117" cy="70.7" r="4.5"/>
<circle cx="177.8" cy="24.3" r="4.5"/>
<circle cx="185.7" cy="24.3" r="4.5"/>
<circle cx="138.2" cy="71.1" r="4.5"/>
<circle cx="149.6" cy="71.7" r="4.5"/>
<circle cx="153.7" cy="76.9" r="4.5"/>
<circle cx="160.9" cy="76.9" r="4.5"/>
<circle cx="170.2" cy="73.8" r="4.5"/>
<circle cx="156.8" cy="83" r="4.5"/>
<circle cx="167.1" cy="84.1" r="4.5"/>
<circle cx="153.7" cy="93.4" r="4.5"/>
<circle cx="160.9" cy="93.4" r="4.5"/>
<circle cx="169.2" cy="91.7" r="4.5"/>
<circle cx="179.5" cy="96.4" r="4.5"/>
<circle cx="185.7" cy="73.8" r="4.5"/>
<circle cx="196" cy="74.8" r="4.5"/>
<circle cx="201.1" cy="74.8" r="4.5"/>
<circle cx="181.5" cy="72.7" r="4.5"/>
<circle cx="163" cy="99" r="4.5"/>
<circle cx="148" cy="99.5" r="4.5"/>
<circle cx="155.99" cy="68.05" r="4.5"/>
<circle cx="332.47" cy="64.9" r="4.5"/>
<circle cx="99.32" cy="66.5" r="4.5"/>
<circle cx="355.76" cy="66.03" r="4.5"/>
<circle cx="193.9" cy="61.55" r="4.5"/>
<circle cx="182.36" cy="65.25" r="4.5"/>
<circle cx="220.76" cy="77.2" r="4.5"/>
<circle cx="207.18" cy="65.4" r="4.5"/>
<circle cx="192.85" cy="67.61" r="4.5"/>
<circle cx="278.37" cy="58.69" r="4.5"/>
<circle cx="113.56" cy="77.95" r="4.5"/>
<circle cx="196.09" cy="62.77" r="4.5"/>
<circle cx="89.49" cy="77.47" r="4.5"/>
<circle cx="200.05" cy="68.21" r="4.5"/>
<circle cx="214.51" cy="65.46" r="4.5"/>
<circle cx="303.8" cy="67.86" r="4.5"/>
<circle cx="95.87" cy="68.81" r="4.5"/>
<circle cx="184.5" cy="72.08" r="4.5"/>
<circle cx="302.63" cy="67.61" r="4.5"/>
<circle cx="166.45" cy="65.87" r="4.5"/>
<circle cx="319.77" cy="66.06" r="4.5"/>
<circle cx="283.49" cy="73.11" r="4.5"/>
<circle cx="75.15" cy="69.9" r="4.5"/>
<circle cx="180.93" cy="58.99" r="4.5"/>
<circle cx="298.26" cy="61.19" r="4.5"/>
<circle cx="224.42" cy="66.98" r="4.5"/>
<circle cx="269.48" cy="61.26" r="4.5"/>
<circle cx="367.13" cy="62.74" r="4.5"/>
<circle cx="270.21" cy="59.26" r="4.5"/>
<circle cx="230.43" cy="63.43" r="4.5"/>
<circle cx="322.82" cy="67.54" r="4.5"/>
<circle cx="194.76" cy="70.97" r="4.5"/>
<circle cx="65.51" cy="65.06" r="4.5"/>
<circle cx="146.2" cy="77.45" r="4.5"/>
<circle cx="245.42" cy="64.54" r="4.5"/>
<circle cx="249.24" cy="71.01" r="4.5"/>
<circle cx="149.65" cy="67.98" r="4.5"/>
<circle cx="368.11" cy="62.01" r="4.5"/>
<circle cx="132.44" cy="64.07" r="4.5"/>
<circle cx="232.54" cy="66.07" r="4.5"/>
<circle cx="168.23" cy="76.53" r="4.5"/>
<circle cx="281.77" cy="76.44" r="4.5"/>
<circle cx="275.2" cy="63.49" r="4.5"/>
<circle cx="361.64" cy="69.34" r="4.5"/>
<circle cx="342.66" cy="65.83" r="4.5"/>
<circle cx="307.75" cy="62.94" r="4.5"/>
<circle cx="140.23" cy="69.09" r="4.5"/>
<circle cx="209.87" cy="65.55" r="4.5"/>
<circle cx="256.32" cy="58.15" r="4.5"/>
<circle cx="159.27" cy="70.68" r="4.5"/>
<circle cx="95.42" cy="69.17" r="4.5"/>
<circle cx="320.04" cy="68.58" r="4.5"/>
<circle cx="113.01" cy="71.05" r="4.5"/>
<circle cx="213.39" cy="71.61" r="4.5"/>
<circle cx="197.07" cy="64.87" r="4.5"/>
<circle cx="192.97" cy="73.1" r="4.5"/>
<circle cx="363.06" cy="69.26" r="4.5"/>
<circle cx="170.85" cy="65.61" r="4.5"/>
<circle cx="285.99" cy="62.39" r="4.5"/>
<circle cx="134.34" cy="65.19" r="4.5"/>
<circle cx="295.45" cy="65.15" r="4.5"/>
<circle cx="293.61" cy="62.98" r="4.5"/>
<circle cx="317.29" cy="60.81" r="4.5"/>
<circle cx="211.55" cy="77.99" r="4.5"/>
<circle cx="130.7" cy="66.37" r="4.5"/>
<circle cx="256.89" cy="61.37" r="4.5"/>
<circle cx="157.69" cy="60.65" r="4.5"/>
<circle cx="68.51" cy="69.32" r="4.5"/>
<circle cx="119.26" cy="69.55" r="4.5"/>
<circle cx="349.55" cy="63.69" r="4.5"/>
<circle cx="64.16" cy="65.31" r="4.5"/>
<circle cx="78.88" cy="63.17" r="4.5"/>
<circle cx="92.58" cy="58.35" r="4.5"/>
<circle cx="336.9" cy="72.81" r="4.5"/>
<circle cx="180.32" cy="67.24" r="4.5"/>
<circle cx="275.25" cy="79.86" r="4.5"/>
<circle cx="279.64" cy="60.46" r="4.5"/>
<circle cx="195.93" cy="64.17" r="4.5"/>
<circle cx="287.8" cy="70.3" r="4.5"/>
<circle cx="204.31" cy="63.53" r="4.5"/>
</g>
<rect x="52.5" y="16.8" width="327.8" height="80.6" fill="none" stroke="#000" stroke-width="1.5"/>
<line x1="52.5" y1="26.1" x2="57.5" y2="26.1" stroke="#000" stroke-width="1.4" />
<text x="46.4" y="30.2" font-size="14" text-anchor="end" >100</text>
<line x1="52.5" y1="44.95" x2="57.5" y2="44.95" stroke="#000" stroke-width="1.4" />
<text x="46.4" y="49.05" font-size="14" text-anchor="end" >99</text>
<line x1="52.5" y1="63.8" x2="57.5" y2="63.8" stroke="#000" stroke-width="1.4" />
<text x="46.4" y="67.9" font-size="14" text-anchor="end" >98</text>
<line x1="52.5" y1="82.65" x2="57.5" y2="82.65" stroke="#000" stroke-width="1.4" />
<text x="46.4" y="86.75" font-size="14" text-anchor="end" >97</text>
<line x1="52.5" y1="35.53" x2="55.5" y2="35.53" stroke="#000" stroke-width="1.4" />
<line x1="52.5" y1="54.38" x2="55.5" y2="54.38" stroke="#000" stroke-width="1.4" />
<line x1="52.5" y1="73.22" x2="55.5" y2="73.22" stroke="#000" stroke-width="1.4" />
<line x1="52.5" y1="92.08" x2="55.5" y2="92.08" stroke="#000" stroke-width="1.4" />
<line x1="61.5" y1="97.4" x2="61.5" y2="92.4" stroke="#000" stroke-width="1.4" />
<line x1="123.36" y1="97.4" x2="123.36" y2="92.4" stroke="#000" stroke-width="1.4" />
<line x1="185.22" y1="97.4" x2="185.22" y2="92.4" stroke="#000" stroke-width="1.4" />
<line x1="247.08" y1="97.4" x2="247.08" y2="92.4" stroke="#000" stroke-width="1.4" />
<line x1="308.94" y1="97.4" x2="308.94" y2="92.4" stroke="#000" stroke-width="1.4" />
<line x1="370.8" y1="97.4" x2="370.8" y2="92.4" stroke="#000" stroke-width="1.4" />
<line x1="92.43" y1="97.4" x2="92.43" y2="94.4" stroke="#000" stroke-width="1.4" />
<line x1="154.29" y1="97.4" x2="154.29" y2="94.4" stroke="#000" stroke-width="1.4" />
<line x1="216.15" y1="97.4" x2="216.15" y2="94.4" stroke="#000" stroke-width="1.4" />
<line x1="278.01" y1="97.4" x2="278.01" y2="94.4" stroke="#000" stroke-width="1.4" />
<line x1="339.87" y1="97.4" x2="339.87" y2="94.4" stroke="#000" stroke-width="1.4" />
<text transform="translate(17.7,56.6) rotate(-90)" x="0" y="0" font-size="15.8" text-anchor="middle" >CE (%)</text>
<g clip-path="url(#clipA)">
<path d="M61.8,323.2 L75,323.6 L90,324.2 L110,325.1 L160,326.2 L210,327 L280,328 L370,329" fill="none" stroke="#8a8a8a" stroke-width="9" stroke-linecap="round" stroke-linejoin="round"/>
<path d="M61.8,313.5 L70,315.2 L88,316 L110,317.4 L160,318.2 L210,318.6 L280,320 L370,320.2" fill="none" stroke="#f4a466" stroke-width="9" stroke-linecap="round" stroke-linejoin="round"/>
<path d="M61.8,300 L66,303.5 L70,305.3 L80,308 L88.4,309.8 L100,311.8 L112,313.3 L135,314.8 L141,314.2 L147,315.2 L160,316.5 L210,319.5 L280,322.8 L370,324.3" fill="none" stroke="#0a920a" stroke-width="9.4" stroke-linecap="round" stroke-linejoin="round"/>
<path d="M61.8,163.5 L70,167.5 L82,170.5 L97,173 L112,172.5 L135,174.3 L160,176 L210,178.8 L260,180.2 L310,181.7 L370,182.4" fill="none" stroke="#ff0000" stroke-width="9.4" stroke-linecap="round" stroke-linejoin="round"/>
<path d="M61.8,159.6 L72,160.6 L82.4,162.3 L112,164.9 L160,168 L210,170.4 L260,172.2 L310,173.7 L370,174.2" fill="none" stroke="#2323ff" stroke-width="9.6" stroke-linecap="round" stroke-linejoin="round"/>
</g>
<circle cx="370.2" cy="174.2" r="4.6" fill="url(#gB)"/>
<circle cx="370.2" cy="182.4" r="4.6" fill="url(#gR)"/>
<circle cx="370.2" cy="320.2" r="4.6" fill="url(#gO)"/>
<circle cx="370.2" cy="324.3" r="4.6" fill="url(#gG)"/>
<rect x="52.5" y="116.6" width="327.8" height="254.1" fill="none" stroke="#000" stroke-width="1.5"/>
<line x1="52.5" y1="370.7" x2="57.5" y2="370.7" stroke="#000" stroke-width="1.4" />
<text x="46.4" y="375" font-size="14" text-anchor="end" >0</text>
<line x1="52.5" y1="322.32" x2="57.5" y2="322.32" stroke="#000" stroke-width="1.4" />
<text x="46.4" y="326.62" font-size="14" text-anchor="end" >40</text>
<line x1="52.5" y1="273.94" x2="57.5" y2="273.94" stroke="#000" stroke-width="1.4" />
<text x="46.4" y="278.24" font-size="14" text-anchor="end" >80</text>
<line x1="52.5" y1="225.56" x2="57.5" y2="225.56" stroke="#000" stroke-width="1.4" />
<text x="46.4" y="229.86" font-size="14" text-anchor="end" >120</text>
<line x1="52.5" y1="177.18" x2="57.5" y2="177.18" stroke="#000" stroke-width="1.4" />
<text x="46.4" y="181.48" font-size="14" text-anchor="end" >160</text>
<line x1="52.5" y1="128.8" x2="57.5" y2="128.8" stroke="#000" stroke-width="1.4" />
<text x="46.4" y="133.1" font-size="14" text-anchor="end" >200</text>
<line x1="52.5" y1="346.51" x2="55.5" y2="346.51" stroke="#000" stroke-width="1.4" />
<line x1="52.5" y1="298.13" x2="55.5" y2="298.13" stroke="#000" stroke-width="1.4" />
<line x1="52.5" y1="249.75" x2="55.5" y2="249.75" stroke="#000" stroke-width="1.4" />
<line x1="52.5" y1="201.37" x2="55.5" y2="201.37" stroke="#000" stroke-width="1.4" />
<line x1="52.5" y1="152.99" x2="55.5" y2="152.99" stroke="#000" stroke-width="1.4" />
<line x1="61.5" y1="370.7" x2="61.5" y2="365.7" stroke="#000" stroke-width="1.4" />
<text x="61.5" y="387.6" font-size="14" text-anchor="middle" >0</text>
<line x1="123.36" y1="370.7" x2="123.36" y2="365.7" stroke="#000" stroke-width="1.4" />
<text x="123.36" y="387.6" font-size="14" text-anchor="middle" >10000</text>
<line x1="185.22" y1="370.7" x2="185.22" y2="365.7" stroke="#000" stroke-width="1.4" />
<text x="185.22" y="387.6" font-size="14" text-anchor="middle" >20000</text>
<line x1="247.08" y1="370.7" x2="247.08" y2="365.7" stroke="#000" stroke-width="1.4" />
<text x="247.08" y="387.6" font-size="14" text-anchor="middle" >30000</text>
<line x1="308.94" y1="370.7" x2="308.94" y2="365.7" stroke="#000" stroke-width="1.4" />
<text x="308.94" y="387.6" font-size="14" text-anchor="middle" >40000</text>
<line x1="370.8" y1="370.7" x2="370.8" y2="365.7" stroke="#000" stroke-width="1.4" />
<text x="370.8" y="387.6" font-size="14" text-anchor="middle" >50000</text>
<line x1="92.43" y1="370.7" x2="92.43" y2="367.7" stroke="#000" stroke-width="1.4" />
<line x1="154.29" y1="370.7" x2="154.29" y2="367.7" stroke="#000" stroke-width="1.4" />
<line x1="216.15" y1="370.7" x2="216.15" y2="367.7" stroke="#000" stroke-width="1.4" />
<line x1="278.01" y1="370.7" x2="278.01" y2="367.7" stroke="#000" stroke-width="1.4" />
<line x1="339.87" y1="370.7" x2="339.87" y2="367.7" stroke="#000" stroke-width="1.4" />
<text x="216.5" y="408.3" font-size="16.1" text-anchor="middle" >Cycle Number</text>
<text transform="translate(14.4,243.7) rotate(-90)" text-anchor="middle" font-size="16.2">Volumetric Capacitance (F cm<tspan font-size="10.8" dy="-6.2">-3</tspan><tspan dy="6.2">)</tspan></text>
<text transform="translate(65.6,138.8) scale(0.865,1)" font-size="16" font-weight="bold">10 A g<tspan font-size="10.5" dy="-6.5">-1</tspan></text>
<text transform="translate(244.3,134.7) scale(0.83,1)" font-size="14.2">SBPBF<tspan font-size="9.5" dy="3">4</tspan><tspan dy="-3"> (3.4 V)</tspan></text>
<circle cx="260.9" cy="150" r="4.6" fill="url(#gB)"/>
<text transform="translate(279.6,155.2) scale(0.83,1)" font-size="14.2">M-rGO (with e-IE)</text>
<text transform="translate(236.6,204.5) scale(0.83,1)" font-size="14.2">TEABF<tspan font-size="9.5" dy="3">4</tspan><tspan dy="-3"> (2.7 V)</tspan></text>
<circle cx="253.3" cy="220.3" r="4.6" fill="url(#gR)"/>
<text transform="translate(268.9,225.3) scale(0.83,1)" font-size="14.2">M-rGO (with e-IE)</text>
<circle cx="253.3" cy="238.1" r="4.6" fill="url(#gO)"/>
<text transform="translate(268.9,243.1) scale(0.83,1)" font-size="14.2">M-rGO (without e-IE)</text>
<circle cx="253.3" cy="255.9" r="4.6" fill="url(#gG)"/>
<text transform="translate(268.9,260.9) scale(0.83,1)" font-size="14.2">D-rGO (with e-IE)</text>
<circle cx="253.3" cy="273.7" r="4.6" fill="url(#gK)"/>
<text transform="translate(268.9,278.7) scale(0.83,1)" font-size="14.2">YP-50F</text>
<polyline points="475.3,26.5 479.3,30.2 483.3,30 487.2,29.8 491.6,30.6 499.44,31.6 507.71,33.1 515.99,34 524.26,35.5 541.5,37.8 558.05,39.9 582.88,41.4 599.43,43 615.98,45.8 640.8,47.7" fill="none" stroke="#ff5050" stroke-width="1.0"/>
<polyline points="475.3,26.1 479.3,29.3 483.3,30.8 487.2,32 491.6,34.5 499.44,36 507.71,37.5 515.99,38.5 524.26,40.2 541.5,41.1 558.05,43.3 582.88,46.4 599.43,48.4 615.98,49.9 640.8,51.4" fill="none" stroke="#5070ff" stroke-width="1.0"/>
<circle cx="475.3" cy="26.5" r="4.8" fill="url(#gR)"/>
<circle cx="479.3" cy="30.2" r="4.8" fill="url(#gR)"/>
<circle cx="483.3" cy="30" r="4.8" fill="url(#gR)"/>
<circle cx="487.2" cy="29.8" r="4.8" fill="url(#gR)"/>
<circle cx="491.6" cy="30.6" r="4.8" fill="url(#gR)"/>
<circle cx="499.44" cy="31.6" r="4.8" fill="url(#gR)"/>
<circle cx="507.71" cy="33.1" r="4.8" fill="url(#gR)"/>
<circle cx="515.99" cy="34" r="4.8" fill="url(#gR)"/>
<circle cx="524.26" cy="35.5" r="4.8" fill="url(#gR)"/>
<circle cx="541.5" cy="37.8" r="4.8" fill="url(#gR)"/>
<circle cx="558.05" cy="39.9" r="4.8" fill="url(#gR)"/>
<circle cx="582.88" cy="41.4" r="4.8" fill="url(#gR)"/>
<circle cx="599.43" cy="43" r="4.8" fill="url(#gR)"/>
<circle cx="615.98" cy="45.8" r="4.8" fill="url(#gR)"/>
<circle cx="640.8" cy="47.7" r="4.8" fill="url(#gR)"/>
<circle cx="475.3" cy="26.1" r="4.8" fill="url(#gB)"/>
<circle cx="479.3" cy="29.3" r="4.8" fill="url(#gB)"/>
<circle cx="483.3" cy="30.8" r="4.8" fill="url(#gB)"/>
<circle cx="487.2" cy="32" r="4.8" fill="url(#gB)"/>
<circle cx="491.6" cy="34.5" r="4.8" fill="url(#gB)"/>
<circle cx="499.44" cy="36" r="4.8" fill="url(#gB)"/>
<circle cx="507.71" cy="37.5" r="4.8" fill="url(#gB)"/>
<circle cx="515.99" cy="38.5" r="4.8" fill="url(#gB)"/>
<circle cx="524.26" cy="40.2" r="4.8" fill="url(#gB)"/>
<circle cx="541.5" cy="41.1" r="4.8" fill="url(#gB)"/>
<circle cx="558.05" cy="43.3" r="4.8" fill="url(#gB)"/>
<circle cx="582.88" cy="46.4" r="4.8" fill="url(#gB)"/>
<circle cx="599.43" cy="48.4" r="4.8" fill="url(#gB)"/>
<circle cx="615.98" cy="49.9" r="4.8" fill="url(#gB)"/>
<circle cx="640.8" cy="51.4" r="4.8" fill="url(#gB)"/>
<polyline points="475.3,165 479.3,154.8 483.3,149.5 487.2,147 491.6,144.3 499.44,142.3 507.71,140.5 515.99,137.8 524.26,136.6 541.5,135.6 558.05,134.4 582.88,133.3 599.43,132.3 615.98,131.8 640.8,128.8" fill="none" stroke="#ff5050" stroke-width="1.0"/>
<polyline points="475.3,165.6 479.3,149.5 483.3,141.9 487.2,139.3 491.6,135.9 499.44,132.9 507.71,131.5 515.99,131.1 524.26,128.8 541.5,127.7 558.05,126.1 582.88,123.1 599.43,118.7 615.98,115.7 640.8,114.1" fill="none" stroke="#5070ff" stroke-width="1.0"/>
<circle cx="475.3" cy="165" r="3.6" fill="#fff" stroke="#ff3030" stroke-width="1.75"/>
<circle cx="479.3" cy="154.8" r="3.6" fill="#fff" stroke="#ff3030" stroke-width="1.75"/>
<circle cx="483.3" cy="149.5" r="3.6" fill="#fff" stroke="#ff3030" stroke-width="1.75"/>
<circle cx="487.2" cy="147" r="3.6" fill="#fff" stroke="#ff3030" stroke-width="1.75"/>
<circle cx="491.6" cy="144.3" r="3.6" fill="#fff" stroke="#ff3030" stroke-width="1.75"/>
<circle cx="499.44" cy="142.3" r="3.6" fill="#fff" stroke="#ff3030" stroke-width="1.75"/>
<circle cx="507.71" cy="140.5" r="3.6" fill="#fff" stroke="#ff3030" stroke-width="1.75"/>
<circle cx="515.99" cy="137.8" r="3.6" fill="#fff" stroke="#ff3030" stroke-width="1.75"/>
<circle cx="524.26" cy="136.6" r="3.6" fill="#fff" stroke="#ff3030" stroke-width="1.75"/>
<circle cx="541.5" cy="135.6" r="3.6" fill="#fff" stroke="#ff3030" stroke-width="1.75"/>
<circle cx="558.05" cy="134.4" r="3.6" fill="#fff" stroke="#ff3030" stroke-width="1.75"/>
<circle cx="582.88" cy="133.3" r="3.6" fill="#fff" stroke="#ff3030" stroke-width="1.75"/>
<circle cx="599.43" cy="132.3" r="3.6" fill="#fff" stroke="#ff3030" stroke-width="1.75"/>
<circle cx="615.98" cy="131.8" r="3.6" fill="#fff" stroke="#ff3030" stroke-width="1.75"/>
<circle cx="640.8" cy="128.8" r="3.6" fill="#fff" stroke="#ff3030" stroke-width="1.75"/>
<circle cx="475.3" cy="165.6" r="3.6" fill="#fff" stroke="#1a2aff" stroke-width="1.75"/>
<circle cx="479.3" cy="149.5" r="3.6" fill="#fff" stroke="#1a2aff" stroke-width="1.75"/>
<circle cx="483.3" cy="141.9" r="3.6" fill="#fff" stroke="#1a2aff" stroke-width="1.75"/>
<circle cx="487.2" cy="139.3" r="3.6" fill="#fff" stroke="#1a2aff" stroke-width="1.75"/>
<circle cx="491.6" cy="135.9" r="3.6" fill="#fff" stroke="#1a2aff" stroke-width="1.75"/>
<circle cx="499.44" cy="132.9" r="3.6" fill="#fff" stroke="#1a2aff" stroke-width="1.75"/>
<circle cx="507.71" cy="131.5" r="3.6" fill="#fff" stroke="#1a2aff" stroke-width="1.75"/>
<circle cx="515.99" cy="131.1" r="3.6" fill="#fff" stroke="#1a2aff" stroke-width="1.75"/>
<circle cx="524.26" cy="128.8" r="3.6" fill="#fff" stroke="#1a2aff" stroke-width="1.75"/>
<circle cx="541.5" cy="127.7" r="3.6" fill="#fff" stroke="#1a2aff" stroke-width="1.75"/>
<circle cx="558.05" cy="126.1" r="3.6" fill="#fff" stroke="#1a2aff" stroke-width="1.75"/>
<circle cx="582.88" cy="123.1" r="3.6" fill="#fff" stroke="#1a2aff" stroke-width="1.75"/>
<circle cx="599.43" cy="118.7" r="3.6" fill="#fff" stroke="#1a2aff" stroke-width="1.75"/>
<circle cx="615.98" cy="115.7" r="3.6" fill="#fff" stroke="#1a2aff" stroke-width="1.75"/>
<circle cx="640.8" cy="114.1" r="3.6" fill="#fff" stroke="#1a2aff" stroke-width="1.75"/>
<rect x="468.4" y="16.8" width="179.4" height="153.6" fill="none" stroke="#000" stroke-width="1.5"/>
<line x1="468.4" y1="26.5" x2="472.9" y2="26.5" stroke="#000" stroke-width="1.4" />
<text x="464" y="31.1" font-size="13" text-anchor="end" >100</text>
<line x1="468.4" y1="74.5" x2="472.9" y2="74.5" stroke="#000" stroke-width="1.4" />
<text x="464" y="79.1" font-size="13" text-anchor="end" >90</text>
<line x1="468.4" y1="122.5" x2="472.9" y2="122.5" stroke="#000" stroke-width="1.4" />
<text x="464" y="127.1" font-size="13" text-anchor="end" >80</text>
<line x1="468.4" y1="170.5" x2="472.9" y2="170.5" stroke="#000" stroke-width="1.4" />
<text x="464" y="175.1" font-size="13" text-anchor="end" >70</text>
<line x1="468.4" y1="50.5" x2="470.9" y2="50.5" stroke="#000" stroke-width="1.4" />
<line x1="468.4" y1="98.5" x2="470.9" y2="98.5" stroke="#000" stroke-width="1.4" />
<line x1="468.4" y1="146.5" x2="470.9" y2="146.5" stroke="#000" stroke-width="1.4" />
<line x1="647.8" y1="165.3" x2="643.3" y2="165.3" stroke="#000" stroke-width="1.4" />
<text x="653.5" y="169.2" font-size="13" >0</text>
<line x1="647.8" y1="141.7" x2="643.3" y2="141.7" stroke="#000" stroke-width="1.4" />
<text x="653.5" y="145.6" font-size="13" >5</text>
<line x1="647.8" y1="118.1" x2="643.3" y2="118.1" stroke="#000" stroke-width="1.4" />
<text x="653.5" y="122" font-size="13" >10</text>
<line x1="647.8" y1="94.5" x2="643.3" y2="94.5" stroke="#000" stroke-width="1.4" />
<text x="653.5" y="98.4" font-size="13" >15</text>
<line x1="647.8" y1="153.5" x2="645.3" y2="153.5" stroke="#000" stroke-width="1.4" />
<line x1="647.8" y1="129.9" x2="645.3" y2="129.9" stroke="#000" stroke-width="1.4" />
<line x1="647.8" y1="106.3" x2="645.3" y2="106.3" stroke="#000" stroke-width="1.4" />
<line x1="647.8" y1="46.36" x2="645.3" y2="46.36" stroke="#000" stroke-width="1.4" />
<line x1="475.3" y1="170.4" x2="475.3" y2="165.9" stroke="#000" stroke-width="1.4" />
<text x="475.3" y="185.8" font-size="13" text-anchor="middle" >0</text>
<line x1="516.68" y1="170.4" x2="516.68" y2="165.9" stroke="#000" stroke-width="1.4" />
<text x="516.68" y="185.8" font-size="13" text-anchor="middle" >60</text>
<line x1="558.05" y1="170.4" x2="558.05" y2="165.9" stroke="#000" stroke-width="1.4" />
<text x="558.05" y="185.8" font-size="13" text-anchor="middle" >120</text>
<line x1="599.43" y1="170.4" x2="599.43" y2="165.9" stroke="#000" stroke-width="1.4" />
<text x="599.43" y="185.8" font-size="13" text-anchor="middle" >180</text>
<line x1="640.8" y1="170.4" x2="640.8" y2="165.9" stroke="#000" stroke-width="1.4" />
<text x="640.8" y="185.8" font-size="13" text-anchor="middle" >240</text>
<line x1="495.99" y1="170.4" x2="495.99" y2="167.9" stroke="#000" stroke-width="1.4" />
<line x1="537.36" y1="170.4" x2="537.36" y2="167.9" stroke="#000" stroke-width="1.4" />
<line x1="578.74" y1="170.4" x2="578.74" y2="167.9" stroke="#000" stroke-width="1.4" />
<line x1="620.12" y1="170.4" x2="620.12" y2="167.9" stroke="#000" stroke-width="1.4" />
<path d="M643.5,79.4 L652.5,75.8 L652.5,78.2 L643.5,81.8 Z" fill="#fff"/>
<line x1="643.6" y1="79.4" x2="652.4" y2="75.9" stroke="#000" stroke-width="1.2" />
<line x1="643.6" y1="81.8" x2="652.4" y2="78.3" stroke="#000" stroke-width="1.2" />
<path d="M488.8,38.6 L488.8,43.6 L482,43.6" fill="none" stroke="#111" stroke-width="1.2"/><path d="M476.8,43.6 L484.6,41.8 L484.6,45.4 Z" fill="#111"/>
<path d="M623.2,137 L623.2,144.8 L638,144.8" fill="none" stroke="#111" stroke-width="1.2"/><path d="M644.6,144.8 L636.4,143 L636.4,146.6 Z" fill="#111"/>
<line x1="484.8" y1="69.9" x2="503.2" y2="69.9" stroke="#ff3030" stroke-width="1.3" />
<line x1="484.8" y1="87.3" x2="503.2" y2="87.3" stroke="#3050ff" stroke-width="1.3" />
<text transform="translate(505.2,74.4) scale(0.94,1)" font-size="11.8">TEABF<tspan font-size="8.2" dy="3">4</tspan><tspan dy="-3"> at 2.7 V</tspan></text>
<text transform="translate(505.6,91.8) scale(0.94,1)" font-size="11.8">SBPBF<tspan font-size="8.2" dy="3">4</tspan><tspan dy="-3"> at 3.4 V</tspan></text>
<text transform="translate(436.6,93.45) rotate(-90)" text-anchor="middle" font-size="15.43">Capacitance Rention (%)</text>
<text transform="translate(682.2,111.8) rotate(-90)" text-anchor="middle" font-size="15.4">ESR Increase (%)</text>
<text x="558.9" y="206.4" font-size="16.1" text-anchor="middle" >Voltage Float (hours)</text>
<polyline points="477.6,306.6 480.3,317.6 485.7,320.4 494,325.4 510,332.4 558.9,335.7 640.2,340" fill="none" stroke="#ff3030" stroke-width="1.2"/>
<polyline points="477.6,309.5 480.3,313.2 485.7,314.9 494,317.8 510,323.2 558.9,327 640.2,334" fill="none" stroke="#2040ff" stroke-width="1.2"/>
<path d="M477.6,234.3 C479,236.5 480,237.5 480.7,239.1 C482.5,242 484.5,244 485.9,248.6 C489,258 491,270 494,281.2 C499,298 503,306 510,314.3 C530,336 545,346 558.9,356.4" fill="none" stroke="#9a10cc" stroke-width="1.3"/>
<circle cx="477.6" cy="306.6" r="3.9" fill="url(#gR)"/>
<circle cx="480.3" cy="317.6" r="3.9" fill="url(#gR)"/>
<circle cx="485.7" cy="320.4" r="3.9" fill="url(#gR)"/>
<circle cx="494" cy="325.4" r="3.9" fill="url(#gR)"/>
<circle cx="510" cy="332.4" r="3.9" fill="url(#gR)"/>
<circle cx="558.9" cy="335.7" r="3.9" fill="url(#gR)"/>
<circle cx="640.2" cy="340" r="3.9" fill="url(#gR)"/>
<circle cx="477.6" cy="309.5" r="3.9" fill="url(#gB)"/>
<circle cx="480.3" cy="313.2" r="3.9" fill="url(#gB)"/>
<circle cx="485.7" cy="314.9" r="3.9" fill="url(#gB)"/>
<circle cx="494" cy="317.8" r="3.9" fill="url(#gB)"/>
<circle cx="510" cy="323.2" r="3.9" fill="url(#gB)"/>
<circle cx="558.9" cy="327" r="3.9" fill="url(#gB)"/>
<circle cx="640.2" cy="334" r="3.9" fill="url(#gB)"/>
<circle cx="477.6" cy="234.3" r="3.9" fill="url(#gP)"/>
<circle cx="480.7" cy="239.1" r="3.9" fill="url(#gP)"/>
<circle cx="485.9" cy="248.6" r="3.9" fill="url(#gP)"/>
<circle cx="494" cy="281.2" r="3.9" fill="url(#gP)"/>
<circle cx="510" cy="314.3" r="3.9" fill="url(#gP)"/>
<circle cx="558.9" cy="356.4" r="3.9" fill="url(#gP)"/>
<rect x="469.5" y="217.6" width="179.5" height="153.3" fill="none" stroke="#000" stroke-width="1.5"/>
<line x1="469.5" y1="370.9" x2="474" y2="370.9" stroke="#000" stroke-width="1.4" />
<text x="465" y="375.5" font-size="13" text-anchor="end" >80</text>
<line x1="469.5" y1="334.6" x2="474" y2="334.6" stroke="#000" stroke-width="1.4" />
<text x="465" y="339.2" font-size="13" text-anchor="end" >120</text>
<line x1="469.5" y1="298.3" x2="474" y2="298.3" stroke="#000" stroke-width="1.4" />
<text x="465" y="302.9" font-size="13" text-anchor="end" >160</text>
<line x1="469.5" y1="262" x2="474" y2="262" stroke="#000" stroke-width="1.4" />
<text x="465" y="266.6" font-size="13" text-anchor="end" >200</text>
<line x1="469.5" y1="225.7" x2="474" y2="225.7" stroke="#000" stroke-width="1.4" />
<text x="465" y="230.3" font-size="13" text-anchor="end" >240</text>
<line x1="469.5" y1="352.75" x2="472" y2="352.75" stroke="#000" stroke-width="1.4" />
<line x1="469.5" y1="316.45" x2="472" y2="316.45" stroke="#000" stroke-width="1.4" />
<line x1="469.5" y1="280.15" x2="472" y2="280.15" stroke="#000" stroke-width="1.4" />
<line x1="469.5" y1="243.85" x2="472" y2="243.85" stroke="#000" stroke-width="1.4" />
<line x1="477.8" y1="370.9" x2="477.8" y2="366.4" stroke="#000" stroke-width="1.4" />
<text x="477.8" y="386" font-size="13" text-anchor="middle" >0</text>
<line x1="510.3" y1="370.9" x2="510.3" y2="366.4" stroke="#000" stroke-width="1.4" />
<text x="510.3" y="386" font-size="13" text-anchor="middle" >20</text>
<line x1="542.8" y1="370.9" x2="542.8" y2="366.4" stroke="#000" stroke-width="1.4" />
<text x="542.8" y="386" font-size="13" text-anchor="middle" >40</text>
<line x1="575.3" y1="370.9" x2="575.3" y2="366.4" stroke="#000" stroke-width="1.4" />
<text x="575.3" y="386" font-size="13" text-anchor="middle" >60</text>
<line x1="607.8" y1="370.9" x2="607.8" y2="366.4" stroke="#000" stroke-width="1.4" />
<text x="607.8" y="386" font-size="13" text-anchor="middle" >80</text>
<line x1="640.3" y1="370.9" x2="640.3" y2="366.4" stroke="#000" stroke-width="1.4" />
<text x="640.3" y="386" font-size="13" text-anchor="middle" >100</text>
<line x1="494.05" y1="370.9" x2="494.05" y2="368.4" stroke="#000" stroke-width="1.4" />
<line x1="526.55" y1="370.9" x2="526.55" y2="368.4" stroke="#000" stroke-width="1.4" />
<line x1="559.05" y1="370.9" x2="559.05" y2="368.4" stroke="#000" stroke-width="1.4" />
<line x1="591.55" y1="370.9" x2="591.55" y2="368.4" stroke="#000" stroke-width="1.4" />
<line x1="624.05" y1="370.9" x2="624.05" y2="368.4" stroke="#000" stroke-width="1.4" />
<text transform="translate(433.8,300.65) rotate(-90)" text-anchor="middle" font-size="16.2">Capacitance (F g<tspan font-size="10.8" dy="-6.2">-1</tspan><tspan dy="6.2">)</tspan></text>
<text x="479.8" y="407.2" font-size="16.2">Current Density (A g<tspan font-size="10.8" dy="-6.2">-1</tspan><tspan dy="6.2">)</tspan></text>
<text x="581.5" y="231.1" font-size="11.5" font-weight="bold">6.1 mg cm<tspan font-size="8" dy="-4.5">-2</tspan></text>
<line x1="534.5" y1="246.3" x2="563.4" y2="246.3" stroke="#ff3a3a" stroke-width="1.2" />
<circle cx="549" cy="246.3" r="3.8" fill="url(#gR)"/>
<text transform="translate(566.6,250.6) scale(0.853,1)" font-size="12.2">TEABF<tspan font-size="8.5" dy="3">4</tspan><tspan dy="-3"> (2.7V)</tspan></text>
<line x1="534.5" y1="265.1" x2="563.4" y2="265.1" stroke="#2040ff" stroke-width="1.2" />
<circle cx="549" cy="265.1" r="3.8" fill="url(#gB)"/>
<text transform="translate(566.6,269.4) scale(0.853,1)" font-size="12.2">SBPBF<tspan font-size="8.5" dy="3">4</tspan><tspan dy="-3"> (3.4V)</tspan></text>
<line x1="534.5" y1="284.1" x2="563.4" y2="284.1" stroke="#9a10cc" stroke-width="1.2" />
<circle cx="549" cy="284.1" r="3.8" fill="url(#gP)"/>
<text transform="translate(566.6,288.4) scale(0.853,1)" font-size="12.2">EMIMBF<tspan font-size="8.5" dy="3">4</tspan><tspan dy="-3"> (4.0 V)</tspan></text>
</svg>
</body></html>
